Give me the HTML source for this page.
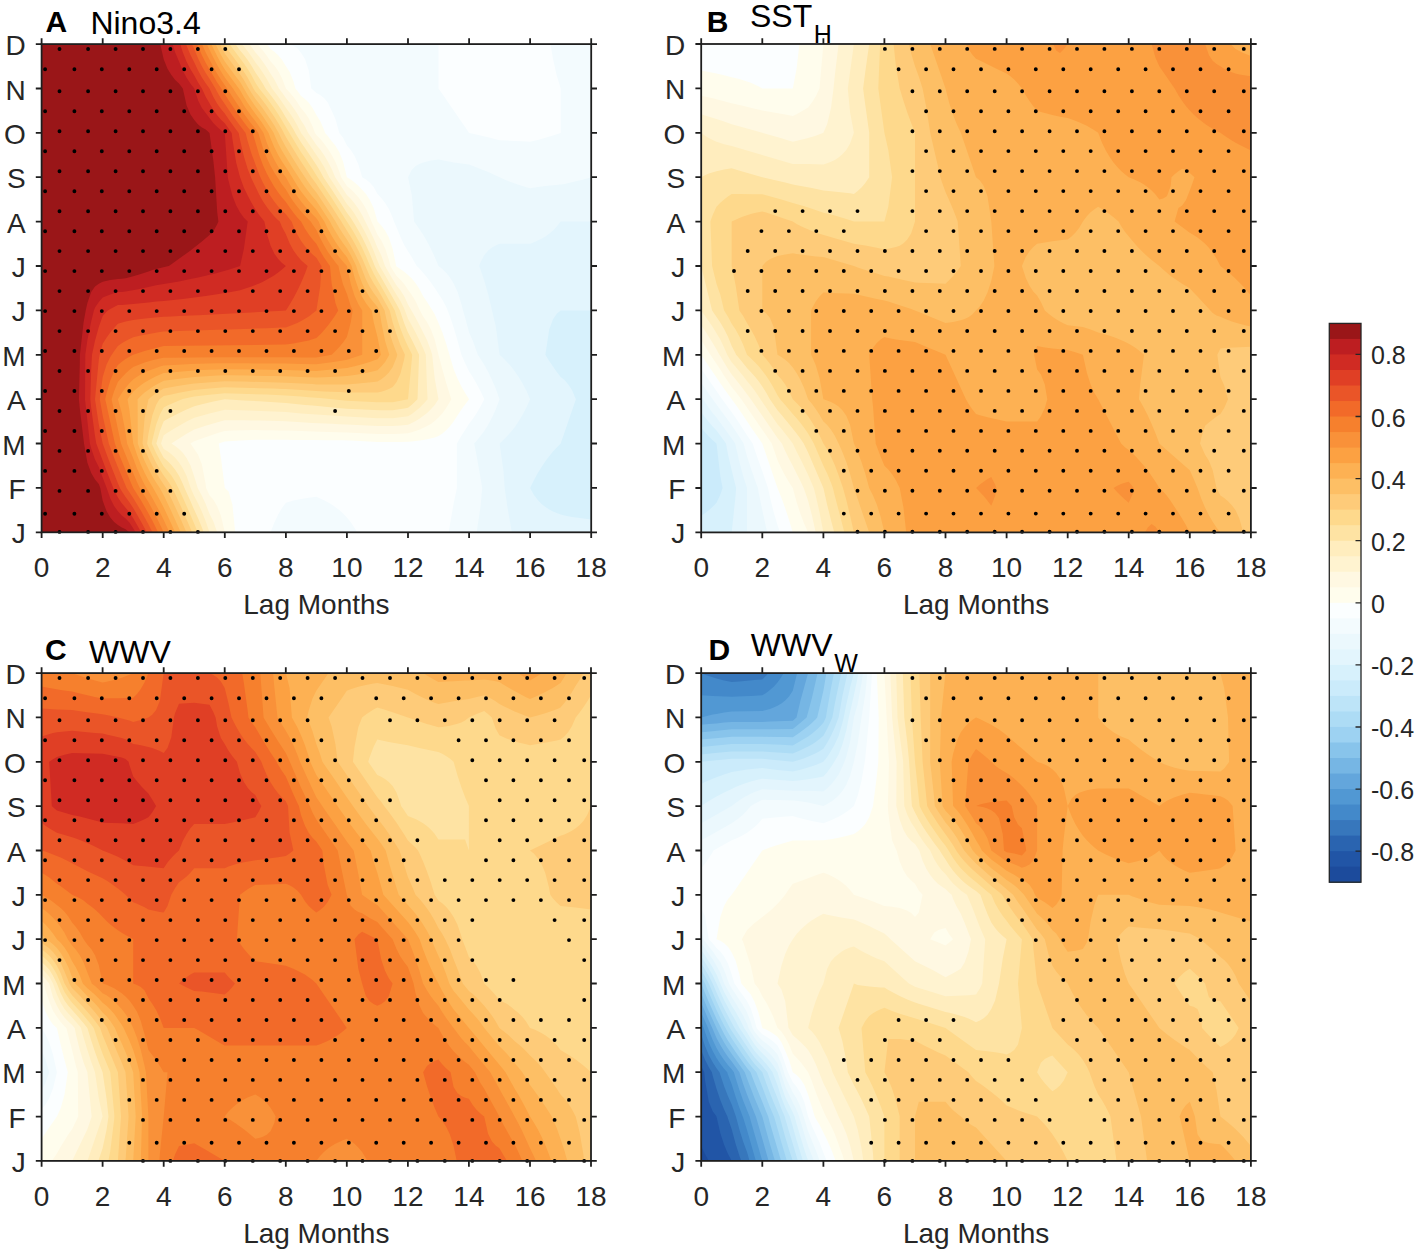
<!DOCTYPE html>
<html><head><meta charset="utf-8"><title>Figure</title><style>html,body{margin:0;padding:0;background:#fff;}svg{display:block;}</style></head><body>
<svg width="1417" height="1252" viewBox="0 0 1417 1252" shape-rendering="geometricPrecision">
<rect width="1417" height="1252" fill="#fff"/>
<rect x="41.6" y="44.1" width="549.6" height="488.2" fill="#D7F1FC"/>
<path d="M45.4 532.3L591.2 532.3L591.2 519.6L579.8 518.1L572.1 516.9L564.5 515.4L560.7 514.5L556.8 513.1L553 511.4L549.2 509.4L545.4 506.9L541.6 503.9L537.8 500L534 494.9L530.1 487.9L534 480.1L537.8 473.1L541.6 466.9L545.4 461.3L549.2 456.2L553 451.6L556.8 447.4L560.7 443.5L575.9 399.2L572.1 390.3L568.3 384.4L564.5 380.1L560.7 377L556.8 372L553 366.6L549.2 360.9L545.4 354.8L549.2 329.4L553 319.3L556.8 313.8L560.7 310.4L591.2 310.4L591.2 44.1L41.6 44.1L41.6 532.3Z" fill="#E3F5FD" fill-rule="evenodd"/>
<path d="M45.4 532.3L511.8 532.3L507.2 505.7L504.7 487.9L503.4 470.2L499.6 443.5L503.4 440L507.2 436.1L511.1 431.8L514.9 426.9L518.7 421.3L522.5 415L526.3 407.7L530.1 399.2L526.3 390.6L522.5 383.3L518.7 377L514.9 371.4L511.1 366.5L507.2 362.2L503.4 358.3L499.6 354.8L495.8 326.5L488.2 294.3L484.3 280.8L480.5 269.4L479.2 266L480.5 262.3L484.3 254.9L488.2 250.5L492 247.5L495.8 245.4L499.6 243.8L530.1 243.8L534 242.3L537.8 240.6L541.6 238.7L545.4 236.4L549.2 233.7L553 230.5L556.8 226.6L560.7 221.6L591.2 221.6L591.2 44.1L41.6 44.1L41.6 532.3Z" fill="#EBF8FD" fill-rule="evenodd"/>
<path d="M45.4 532.3L476.7 532.3L480.5 506.9L482.2 487.9L480.5 477.7L476.7 456.2L474.2 443.5L476.7 440.8L480.5 436.1L484.3 430.9L488.2 424.8L492 417.6L495.8 409.2L499.6 399.2L495.8 388.8L492 379.9L488.2 372L484.3 365L480.5 358.8L477.8 354.8L476.7 351.4L472.9 341L469.1 332.6L465.3 318.2L463 310.4L461.4 304.1L457.6 292.1L453.8 283.8L450 277.6L446.2 272.8L442.4 269.1L438.5 266L434.7 256.9L430.9 248.7L427.1 241.5L423.3 234.9L419.4 229L414.1 221.6L411.8 195L408 177.2L411.8 169.8L415.6 166.1L419.4 163.9L423.3 162.5L427.1 161.4L430.9 160.6L438.5 159.5L450 161.8L453.8 162.5L469.1 164.6L472.9 165.9L488.2 172L495.8 175.4L503.4 179L507.2 180.7L514.9 183.6L522.5 186.1L526.3 187.3L530.1 188.3L537.8 187.1L545.4 186.1L553 185.3L560.7 184.6L564.5 183.9L575.9 181.3L583.6 179.4L591.2 177.2L591.2 44.1L41.6 44.1L41.6 532.3Z" fill="#F3FBFE" fill-rule="evenodd"/>
<path d="M45.4 532.3L270.6 532.3L274.4 522.4L278.2 514.5L282 508.1L285.9 502.7L293.5 500.6L301.1 499L308.8 497.8L316.4 496.8L320.2 498.4L324 500.2L327.8 502.3L331.7 504.6L335.5 507.2L339.3 510.1L343.1 513.5L346.9 517.5L350.8 522.2L354.6 527.9L357.1 532.3L448.7 532.3L450 524.2L453.8 502.7L456.9 487.9L456.9 443.5L461.4 435.7L469.1 423.8L472.9 418.7L476.7 413L480.5 406.6L484.3 399.2L480.5 391.1L476.7 383.9L472.9 377.3L469.1 371.4L465.3 363.6L461.4 354.8L457.6 340.8L453.8 328.1L450 316.4L447.7 310.4L446.2 307L442.4 299.7L434.7 287.9L430.9 282.5L427.1 277.6L423.3 273L419.4 268.6L416.7 266L411.8 257.3L404.2 244.9L400.4 236.8L396.6 227.5L394 221.6L392.7 217.8L388.9 209.1L385.1 202.9L381.3 197.9L377.5 193.9L373.7 186.9L369.8 182.5L366 179.4L362.2 177.2L358.4 164.6L354.6 156.1L350.8 150.1L346.9 145.5L343.1 137.7L339.3 132.9L335.5 119.2L331.7 110.7L327.8 102.6L324 98L320.2 95L316.4 92.9L312.6 89.4L311.3 88.5L308.8 70.7L305 58.9L301.1 53L297.3 47.9L293.5 45.9L289.7 44.8L285.9 44.1L41.6 44.1L41.6 532.3ZM472.9 133.7L480.5 135.4L488.2 137.2L495.8 139.2L499.6 140.3L507.2 140.6L522.5 141.3L530.1 141.7L537.8 139.9L545.4 137.8L553 135.5L560.7 132.9L560.7 88.5L556.8 75.8L553 58.9L550.5 44.1L438.5 44.1L438.5 88.5L442.4 94L461.4 121.8L465.3 127.3L469.1 132.9Z" fill="#FBFEFF" fill-rule="evenodd"/>
<path d="M45.4 532.3L235.2 532.3L232.4 504.6L228.6 491.4L224.8 487.9L221 458.3L218.7 443.5L224.8 441.4L232.4 441L240.1 440.5L255.3 439.7L266.8 439.7L274.4 439.8L285.9 439.8L293.5 439.9L312.6 440.1L327.8 440.2L343.1 440.3L350.8 440.6L377.5 442L392.7 442L400.4 441.9L408 441.8L411.8 441.5L423.3 439.9L427.1 439.3L434.7 437.4L438.5 436.1L442.4 433.4L446.2 430.2L450 426.3L453.8 421.3L457.6 415.3L461.4 409.6L465.3 404.2L469.1 399.2L465.3 393.2L461.4 386.5L457.6 378.7L453.8 369.6L446.2 343.7L442.4 332.6L438.5 323.1L434.7 314.2L430.9 307.9L427.1 301.9L423.3 296.4L419.4 289L415.6 283.2L411.8 278.6L408 274.9L404.2 271.8L396.6 266.5L396.2 266L392.7 249.1L388.9 237.4L385.1 230.4L381.3 225.4L377.5 221.6L373.7 208.3L369.8 199.9L366 194.1L358.4 185.8L354.6 182.5L350.8 179.6L346.9 177.2L343.1 161.7L339.3 152.2L335.5 145.8L331.7 141.2L327.8 136L325.1 132.9L324 129.7L320.2 121.1L316.4 115.1L312.6 107.9L308.8 102.7L305 98.9L301.1 95.9L297.3 90.8L295.4 88.5L293.5 81.4L289.7 72.1L285.9 66.3L282 59.8L278.2 55.2L274.4 51.7L270.6 49L266.8 44.1L41.6 44.1L41.6 532.3Z" fill="#FFFDED" fill-rule="evenodd"/>
<path d="M45.4 532.3L224.8 532.3L221 515.9L217.2 506.2L213.4 499.8L209.5 495.3L206.1 487.9L205.7 484.4L201.9 464.6L198.1 454.8L190.5 443.5L190.4 443.5L194.3 441.2L201.9 438.4L213.4 434.5L221 432L224.8 430.9L232.4 430.6L255.3 430L263 430.2L270.6 430.3L278.2 430.5L285.9 430.6L301.1 431.1L320.2 431.7L346.9 432.4L377.5 434L392.7 434L400.4 433.7L408 433.3L411.8 432.3L415.6 431.1L419.4 429.7L427.1 426.1L430.9 423.9L434.7 421.1L438.5 417.6L442.4 413.3L446.2 408L450 401.6L451.3 399.2L450 395.3L446.2 383L442.4 369.6L438.5 354.8L434.7 339.6L430.9 329.4L427.1 322.2L423.3 316.7L419.4 309.4L415.6 301.3L411.8 294.9L408 289.7L404.2 284.1L400.4 279.7L396.6 275.9L392.7 270L390.4 266L388.9 259.8L385.1 248.3L381.3 240.5L377.5 234.7L373.7 226.3L371.4 221.6L369.8 217.3L366 208.8L362.2 202.6L358.4 197.3L354.6 192.9L350.8 189.2L346.9 186.1L341.1 177.2L339.3 171.5L335.5 161.9L331.7 155.1L327.8 148.7L324 143.4L320.2 138.8L316.4 134.9L315 132.9L312.6 126.4L308.8 118.6L305 112.8L301.1 108.2L297.3 102.3L293.5 97.1L289.7 92.6L285.9 88.5L282 78.3L278.2 71L274.4 65.6L270.6 61.4L266.8 55.8L263 50.8L259.2 46.2L257.2 44.1L41.6 44.1L41.6 532.3Z" fill="#FFF8E2" fill-rule="evenodd"/>
<path d="M45.4 532.3L217.2 532.3L213.4 521.5L209.5 513.8L205.7 504.1L201.9 495.8L197.7 487.9L194.3 476.8L190.5 465.5L186.6 458L182.8 452.8L179 448.9L175.2 445.9L171.4 443.5L175.2 440.9L186.6 433.8L194.3 429.5L205.7 425.8L221 421.3L224.8 420.3L243.9 420.3L251.5 420.4L259.2 420.5L278.2 421.1L285.9 421.3L293.5 421.8L305 422.4L312.6 422.9L331.7 423.8L339.3 424.2L346.9 424.5L377.5 426.1L392.7 426.1L400.4 425.5L408 424.8L411.8 423.1L415.6 421.1L419.4 418.8L427.1 413L430.9 409.3L434.7 404.9L438.5 399.2L434.7 378.4L432.2 354.8L430.9 350.5L427.1 340.3L419.4 324.9L415.6 317.8L408 304.5L404.2 296.3L400.4 290.3L396.6 285.4L392.7 279.2L385 266L381.3 255.6L377.5 247.7L373.7 238.6L369.8 230.4L365.3 221.6L362.2 215.3L358.4 208.7L354.6 203.4L350.8 198.8L346.9 195L335.2 177.2L331.7 168.9L327.8 161.4L324 155.1L320.2 149.6L316.4 145L308.8 133.8L308.1 132.9L305 126.6L301.1 120.5L297.3 113.8L293.5 108L289.7 102.8L285.9 98.1L282 92.6L278.9 88.5L278.2 86.9L274.4 79.5L270.6 73.7L266.8 67.5L263 61.9L259.2 56.8L255.3 52.2L251.5 46.9L249.2 44.1L41.6 44.1L41.6 532.3Z" fill="#FFF3D0" fill-rule="evenodd"/>
<path d="M45.4 532.3L209.5 532.3L205.7 521.2L201.9 511.7L198.1 503.5L194.3 496.2L190.6 487.9L190.5 487.4L186.6 476.1L182.8 468.2L179 462.4L175.2 457.8L171.4 454.2L167.5 451.3L163.7 448.9L161 443.5L163.7 435.2L167.5 432.7L175.2 428L186.6 421.6L194.3 417.8L209.5 413.6L224.8 409.7L232.4 410L240.1 410.2L247.7 410.5L255.3 410.7L266.8 411.3L274.4 411.6L285.9 412.1L293.5 412.7L301.1 413.4L316.4 414.5L324 415.1L350.8 416.8L377.5 418.2L392.7 418.2L408 416.2L411.8 413.9L415.6 411.1L419.4 407.9L423.3 404L427.6 399.2L427.1 390.3L425.8 354.8L423.3 348.4L419.4 340.2L415.6 332.6L411.8 325.4L408 318.7L404.2 308.6L400.4 300.9L392.7 288.4L385.1 275.2L379.6 266L377.5 260.8L373.7 250.9L369.8 242.1L366 234.1L362.2 226.9L359.1 221.6L358.4 220.2L354.6 213.8L350.8 208.4L346.9 203.9L331.7 180.7L329.3 177.2L324 166.7L320.2 160.5L316.4 155.1L308.8 143.7L305 138.2L301.1 132.9L297.3 125.4L293.5 118.8L289.7 113L285.9 107.8L282 101.9L278.2 96.5L272 88.5L266.8 79.1L263 72.9L259.2 67.3L255.3 62.3L251.5 56.4L247.7 51.2L243.9 46.6L241.6 44.1L41.6 44.1L41.6 532.3Z" fill="#FFEDBE" fill-rule="evenodd"/>
<path d="M45.4 532.3L203.7 532.3L201.9 527.5L198.1 518.2L194.3 510.1L190.5 501.2L184.5 487.9L182.8 483.7L179 475.8L175.2 469.7L171.4 464.9L167.5 461L163.7 457.7L159.9 450.8L156.3 443.5L159.9 430.9L163.7 421.3L167.5 419.1L175.2 415L182.8 411.3L186.6 409.5L194.3 406.2L201.9 404.3L213.4 401.6L224.8 399.2L243.9 400.4L259.2 401.3L278.2 402.4L285.9 402.9L305 404.9L312.6 405.6L335.5 407.7L346.9 408.7L373.7 410.1L381.3 410.2L392.7 410.2L404.2 408.4L408 407.7L411.8 404.7L417.5 399.2L419.1 354.8L415.6 347.4L411.8 339.7L408 332.6L404.2 323.2L399.9 310.4L396.6 304.3L381.3 277.7L377.5 271.3L374.7 266L373.7 263.2L369.8 253.7L366 245.2L362.2 237.5L358.4 230.5L354.6 224L353 221.6L350.8 218L346.9 212.8L339.3 201L331.7 189.4L323.4 177.2L320.2 171.3L316.4 165.1L305 148L301.1 142.5L295.3 132.9L293.5 129.6L289.7 123.2L285.9 117.4L282 111.1L278.2 105.3L274.4 100L265.5 88.5L263 84L259.2 77.9L255.3 72.3L251.5 65.8L247.7 60.1L243.9 55L240.1 50.4L236.2 45.3L235.4 44.1L41.6 44.1L41.6 532.3Z" fill="#FEE3A3" fill-rule="evenodd"/>
<path d="M45.4 532.3L197.8 532.3L190.5 514.9L182.8 497.5L178.4 487.9L175.2 481.7L171.4 475.6L167.5 470.7L163.7 466.6L159.9 460.1L156.1 452.9L151.7 443.5L152.3 440.4L156.1 424.8L159.9 414.6L163.7 407.5L167.5 405.6L179 400.4L182.8 399L190.5 397.3L194.3 396.5L209.5 394.8L224.8 393.2L232.4 393.4L240.1 393.7L266.8 394.6L285.9 395.4L293.5 395.9L301.1 396.5L308.8 397.2L320.2 398.1L339.3 400L346.9 400.7L377.5 402.3L392.7 402.3L400.4 400.8L408 399.2L411.8 359.7L412.2 354.8L408 346.5L404.2 338.2L400.4 328.5L396.6 316.7L394.8 310.4L385.1 293.2L377.5 280.2L373.7 273.5L369.8 265.4L366 256.3L362.2 248L358.4 240.5L354.6 233.7L350.8 227.4L346.9 221.6L331.7 198.1L317.6 177.2L312.6 169.3L305 157.7L301.1 152.2L293.5 139.8L285.9 127.1L282 120.4L278.2 114.2L274.4 108.5L266.8 98.1L263 93.2L259.2 88.5L255.3 82.4L251.5 75.3L247.7 69L243.9 63.4L232.4 48.1L229.5 44.1L41.6 44.1L41.6 532.3Z" fill="#FED98C" fill-rule="evenodd"/>
<path d="M45.4 532.3L192 532.3L190.5 528.5L182.8 510.8L175.2 494L172.3 487.9L171.4 486.3L167.5 480.4L163.7 475.5L159.9 469.5L156.1 462.8L152.3 455.3L148.5 446.9L147.1 443.5L148.5 433.3L152.3 415.4L156.1 405.1L159.4 399.2L163.7 396.1L171.4 394.4L179 392.8L194.3 390L209.5 388.5L224.8 387.2L251.5 387.9L259.2 388.2L274.4 388.6L282 388.9L285.9 389L312.6 390.8L316.4 391.1L324 391.4L331.7 391.8L339.3 392.1L346.9 392.6L358.4 392.6L366 392.5L377.5 392.5L381.3 391.7L385.1 390.6L388.9 389.1L392.7 387.1L396.6 381.9L400.4 373.8L404.2 359.2L404.9 354.8L400.4 344.9L396.6 334.8L392.7 322.5L389.7 310.4L381.3 295.6L377.5 289.1L373.7 283.2L369.8 276.2L362.2 258.6L358.4 250.6L354.6 243.3L350.8 236.7L343.1 224.6L341.3 221.6L331.7 206.8L327.8 201.1L320.2 189.7L316.4 184.1L311.3 177.2L305 167.5L301.1 161.8L293.5 149.6L285.9 136.9L282 129.6L278.2 123.1L274.4 117.1L266.8 106.1L263 100.9L259.2 96.1L255.3 91.4L253.4 88.5L251.5 84.7L247.7 77.8L243.9 71.7L240.1 66.3L224.8 45.7L224 44.1L41.6 44.1L41.6 532.3Z" fill="#FECB79" fill-rule="evenodd"/>
<path d="M45.4 532.3L186.4 532.3L179 515.3L171.4 498.7L166.2 487.9L163.7 484.4L159.9 478.8L156.1 472.6L152.3 465.7L148.5 458L144.6 449.2L142.5 443.5L144.6 418L148.5 399.2L152.3 396L156.1 393.2L159.9 390.7L163.7 388.4L179 385.8L190.5 384L194.3 383.5L221 381.4L224.8 381.2L243.9 381.6L285.9 382.7L312.6 384.1L316.4 384.4L346.9 384.4L358.4 383.5L373.7 381.9L377.5 381.4L381.3 379.2L385.1 376.2L388.9 372.4L392.7 366.9L396.6 357.2L397.3 354.8L392.7 342.7L388.9 330.2L385.1 313.2L384.6 310.4L377.5 298L373.7 292.9L369.8 286.9L366 279.4L362.2 270L360.8 266L358.4 260.7L354.6 253L350.8 245.9L346.9 239.4L343.1 233.9L339.3 228L335.5 221.4L331.7 215.5L316.4 192.6L312.6 187.9L308.8 182.8L301.1 171.5L293.5 159.5L285.9 147L282 139.9L278.7 132.9L274.4 125.6L270.6 119.7L263 108.7L259.2 103.7L255.3 98.8L251.5 93.1L247.7 86.7L243.9 80.1L240.1 74.2L236.2 69.1L224.8 53.6L219.7 44.1L41.6 44.1L41.6 532.3Z" fill="#FDBF65" fill-rule="evenodd"/>
<path d="M45.4 532.3L180.7 532.3L171.4 511.4L163.7 495.3L159.8 487.9L156.1 482.5L152.3 476.2L148.5 469.1L144.6 461L140.8 451.8L137.8 443.5L137.6 399.2L140.8 395.9L144.6 392.6L148.5 389.7L152.3 387.1L156.1 384.8L159.9 382.7L163.7 380.8L171.4 379.7L179 378.7L194.3 377L201.9 376.5L217.2 375.6L224.8 375.2L232.4 375.3L247.7 375.6L266.8 376L274.4 376.1L282 376.3L285.9 376.3L301.1 377L308.8 377.3L316.4 377.6L324 377.3L339.3 376.6L346.9 376.1L354.6 375L362.2 373.7L373.7 371.2L377.5 370.3L381.3 366.6L385.1 361.9L388.9 355.6L389.3 354.8L385.1 340.9L381.3 322.3L379.5 310.4L377.5 306.8L373.7 302.6L369.8 297.6L366 291.3L362.2 283.5L358.4 273.3L356.2 266L354.6 262.6L350.8 255.1L346.9 248.3L343.1 243.2L339.3 237.7L335.5 231.6L331.7 224.9L330 221.6L324 212.6L316.4 201.1L312.6 196.8L308.8 192L305 186.9L301.1 181.3L298.6 177.2L293.5 169.4L282 150.7L278.2 143.4L274.4 134.8L273.7 132.9L270.6 127.9L263 116.5L259.2 111.2L255.3 106.2L251.5 100.8L247.7 94.9L240.1 82.1L236.2 77L224.8 61.5L221 54.9L217.2 47.6L215.5 44.1L41.6 44.1L41.6 532.3Z" fill="#FDB153" fill-rule="evenodd"/>
<path d="M45.4 532.3L175 532.3L171.4 524.1L163.7 507.6L159.9 500.2L156.1 493.2L152.3 486.6L148.5 480.2L144.6 472.8L140.8 464.5L137 454.8L133.2 443.5L129.4 409.9L127.5 399.2L129.4 396.5L133.2 391.8L137 388.3L140.8 385.3L144.6 382.6L148.5 380.3L152.3 378.2L156.1 376.3L163.7 373.1L171.4 372.4L179 371.7L194.3 370.4L201.9 370.1L224.8 369.2L285.9 370L301.1 370.4L308.8 370.7L316.4 370.9L324 370.3L339.3 368.8L346.9 367.9L354.6 366.2L362.2 364.2L369.8 361.9L373.7 360.6L377.5 359.2L380.9 354.8L377.5 337L373.7 322.2L371.7 310.4L369.8 308.3L366 303.2L362.2 296.9L358.4 288.8L354.6 277.8L351.6 266L346.9 257.1L343.1 252.5L339.3 247.5L335.5 241.9L331.7 235.7L327.8 228.8L324.3 221.6L316.4 209.7L312.6 205.6L308.8 201.3L301.1 191.4L297.3 185.7L293.5 179.5L292.2 177.2L285.9 167.2L282 161.5L278.2 155.1L274.4 147.4L270.6 138.4L268.6 132.9L263 124.3L259.2 118.8L251.5 108.6L247.7 103L243.9 96.9L240.1 90.3L238.9 88.5L224.8 69.5L221 63.2L217.2 56.3L211.2 44.1L41.6 44.1L41.6 532.3Z" fill="#FCA142" fill-rule="evenodd"/>
<path d="M45.4 532.3L169.4 532.3L163.7 520L159.9 512.2L156.1 504.9L152.3 497.9L148.5 491.2L144.6 484.7L140.8 477.1L137 468.5L133.2 458.3L127.1 443.5L125.6 433L121.8 413.1L117.9 399.2L121.8 392.9L125.6 387.7L129.4 383.3L133.2 379.4L137 376.8L140.8 374.6L144.6 372.6L148.5 370.8L156.1 367.9L159.9 366.6L163.7 365.5L182.8 364.4L190.5 364.1L198.1 363.8L217.2 363.3L232.4 363.2L240.1 363.3L247.7 363.3L255.3 363.4L270.6 363.5L278.2 363.6L285.9 363.6L293.5 363.8L301.1 363.9L316.4 364.2L331.7 362.2L343.1 360.4L346.9 359.7L350.8 358.6L358.4 356.1L362.2 354.8L362.2 310.4L358.4 304.2L354.6 295.9L350.8 284.1L346.9 266L343.1 261.8L339.3 257.2L335.5 252.2L331.7 246.5L327.8 240.2L324 233.2L320.2 225.2L318.7 221.6L316.4 218.2L312.6 214.5L308.8 210.5L305 206.2L301.1 201.5L297.3 196.3L293.5 190.6L289.7 184.3L285.9 177.2L282 172.4L278.2 166.7L274.4 160.1L270.6 152.3L266.8 142.8L263.5 132.9L259.2 126.4L255.3 121L251.5 116.3L247.7 111.1L243.9 105.4L240.1 99.1L236.2 93.5L233 88.5L224.8 77.4L221 71.5L217.2 65L213.4 57.8L206.7 44.1L41.6 44.1L41.6 532.3Z" fill="#F99139" fill-rule="evenodd"/>
<path d="M45.4 532.3L163.7 532.3L159.9 524.2L156.1 516.5L148.5 502.3L139.8 487.9L137 482.1L129.4 464.2L121.8 445.5L121 443.5L111.6 399.2L114.1 391.3L117.9 382.1L121.8 377.4L125.6 373.4L129.4 370L133.2 367.1L137 365.4L144.6 362.5L152.3 360.3L159.9 358.6L163.7 357.8L171.4 357.7L194.3 357.4L221 357.2L259.2 357.2L266.8 357.3L293.5 357.3L301.1 357.4L312.6 357.4L316.4 357.5L331.7 354.8L335.5 351.1L339.3 347.1L343.1 342.4L346.9 337L350.8 322.2L352.7 310.4L350.7 306L346.9 293.7L343.1 284.4L339.3 270.2L338.5 266L335.5 262.4L331.7 257.3L327.8 251.7L324 245.3L320.2 238.1L316.4 229.9L312.6 224.6L310.7 221.6L308.8 219.8L305 215.8L301.1 211.5L297.3 206.8L293.5 201.7L289.7 195.9L285.9 189.6L282 184.4L278.2 178.6L277.4 177.2L274.4 172.8L270.6 166.1L266.8 158.1L263 148.2L259.2 135.8L258.4 132.9L255.3 128.4L251.5 124L247.7 119.1L243.9 113.8L240.1 108L236.2 102.5L232.4 96.8L227.1 88.5L221 79.8L217.2 73.7L213.4 67L205.7 52.4L201.9 44.1L41.6 44.1L41.6 532.3Z" fill="#F6802D" fill-rule="evenodd"/>
<path d="M45.4 532.3L158.1 532.3L152.3 520.6L148.5 513.4L140.8 500.1L133.2 487.9L129.4 479.3L121.8 461.1L117.9 451.5L114.9 443.5L106.5 404.8L105.2 399.2L106.5 393.4L110.3 380.5L114.1 371.5L117.9 365L121.8 361.8L125.6 359.1L129.4 356.8L133.2 354.8L140.8 352.3L144.6 351.1L156.1 347.9L163.7 346L182.8 345.8L209.5 345.5L285.9 344.5L293.5 343.4L301.1 342.1L308.8 340.4L316.4 338.1L320.2 334.4L324 330.3L327.8 325.7L331.7 320.6L335.5 314.9L338.2 310.4L335.5 303.2L331.7 283.8L330 266L327.8 263.1L324 257.5L320.2 251.1L316.4 243.8L312.6 239.5L308.8 234.5L305 228.7L301.1 221.6L297.3 217.4L293.5 212.8L289.7 207.6L285.9 201.9L282 197.5L278.2 192.5L274.4 186.9L270.6 180.4L266.8 173.4L263 165.3L259.2 155.1L255.3 141.7L252.6 132.9L247.7 127.2L243.9 122.3L240.1 116.9L236.2 111.6L228.6 100.3L224.8 94.3L221 88.1L217.2 82.4L213.4 76.1L205.7 62.7L201.9 55.2L197.1 44.1L41.6 44.1L41.6 532.3Z" fill="#F26A29" fill-rule="evenodd"/>
<path d="M45.4 532.3L152.4 532.3L148.5 524.5L140.8 510.6L133.2 498L126.6 487.9L117.9 467.3L114.1 457.7L108.8 443.5L102.7 415.8L99.8 399.2L102.7 377L106.5 364.8L110.3 357.1L114.1 351.3L117.9 345.9L121.8 343.3L125.6 341.1L129.4 339.1L133.2 337.3L140.8 335.6L159.9 332L163.7 331.4L179 331L186.6 330.7L209.5 330.1L217.2 329.8L228.6 329.5L236.2 329.2L243.9 329L251.5 328.7L266.8 328.2L282 327.6L285.9 327.5L293.5 324.6L297.3 322.9L301.1 321L305 318.8L308.8 316.4L312.6 313.6L316.4 310.4L320.2 286.5L321.5 266L320.2 264.1L316.4 257.7L312.6 254.4L308.8 250.7L305 246.2L301.1 240.9L297.3 234.5L293.5 226.4L291.6 221.6L289.7 219.3L285.9 214.2L282 210.5L278.2 206.4L274.4 201.7L270.6 196.3L266.8 190L263 182.8L260.4 177.2L259.2 174.4L251.5 153.8L247.7 141.2L245.6 132.9L240.1 125.8L236.2 120.6L232.4 115.3L224.8 103.9L221 98.5L217.2 92L215.4 88.5L209.5 78.8L205.7 73L201.9 66.3L198.1 58.5L194.3 49.3L191.9 44.1L41.6 44.1L41.6 532.3Z" fill="#EA5528" fill-rule="evenodd"/>
<path d="M45.4 532.3L146.8 532.3L140.8 521.2L137 514.5L133.2 508.1L129.4 502.2L125.6 497.1L121.8 491.2L119.9 487.9L117.9 483.2L110.3 464.1L106.5 454L102.7 443.5L98.8 424.5L95 399.2L98.8 359.7L99.6 354.8L102.7 343.7L106.5 337.8L110.3 332.6L114.1 327.9L117.9 323.7L125.6 321.6L133.2 319.9L140.8 319L152.3 317.8L163.7 316.8L171.4 316.4L179 316.1L190.5 315.5L198.1 315.2L259.2 312L266.8 311.5L278.2 310.9L285.9 310.4L289.7 304.6L293.5 298.1L297.3 290.8L301.1 282.7L305 273.4L307.7 266L305 263.8L301.1 260.2L297.3 255.8L293.5 250.4L289.7 243.5L285.9 234.3L282 227L279.8 221.6L278.2 220.2L274.4 216.4L270.6 212.1L266.8 207.1L263 201.4L259.2 194.6L251.5 178.5L247.7 168.9L243.9 156.6L240.1 140.3L238.7 132.9L236.2 129.7L228.6 119.2L224.8 113.6L221 109.1L217.2 103.7L213.4 97L209.5 88.5L205.7 83.3L201.9 77.4L198.1 70.5L194.3 62.4L190.5 54.9L186.6 45.7L186 44.1L41.6 44.1L41.6 532.3Z" fill="#E03F25" fill-rule="evenodd"/>
<path d="M45.4 532.3L141.1 532.3L137 524.8L133.2 518.2L129.4 512.3L121.8 503.3L117.9 497.5L114.1 489.9L106.5 470.8L96.3 443.5L95 436.1L91.2 408L90.3 399.2L91.2 369.6L92 354.8L95 340.8L98.8 326.9L102.7 315.9L106.5 311.7L107.8 310.4L110.3 308.9L117.9 305.1L121.8 305L133.2 304.1L148.5 302.5L156.1 301.6L163.7 300.9L182.8 298.9L198.1 297L205.7 296L217.2 294.3L232.4 291.7L240.1 290.2L247.7 287.8L251.5 286.5L259.2 283.4L263 281.7L270.6 277.6L274.4 275.2L278.2 272.5L282 269.5L285.9 266L282 263L278.2 259.1L274.4 253.7L270.6 245.8L266.8 233.4L264.4 221.6L259.2 215.1L255.3 209.2L251.5 202.8L247.7 195.5L243.9 187.7L240.1 177.2L236.2 162.8L232.4 139L231.7 132.9L224.8 123.2L221 119.7L217.2 115.3L213.4 110L205.7 96.7L201.9 88.5L198.1 82.5L194.3 75.4L190.5 69.3L186.6 61.7L182.8 52.3L180.2 44.1L41.6 44.1L41.6 532.3Z" fill="#D02B23" fill-rule="evenodd"/>
<path d="M45.4 532.3L135.5 532.3L133.2 528.3L129.4 522.4L125.6 518.6L121.8 515.4L117.9 511.3L114.1 505.9L110.3 498.4L106.5 487.5L102.7 477.7L98.8 467.1L95 459.5L91.2 448.5L89.9 443.5L85 399.2L85.3 354.8L87.4 340L91.2 321.5L93.9 310.4L95 307.6L98.8 301.9L102.7 297.6L110.3 294.5L117.9 292L121.8 291.9L125.6 291.5L137 289.4L148.5 287L156.1 285.3L163.7 284.1L179 281.4L190.5 279.1L198.1 277.5L205.7 275.8L209.5 274.8L213.4 273.9L228.6 269.7L240.1 266L243.9 248.7L247.7 221.6L243.9 217.7L240.1 212.4L236.2 205.5L232.4 195.8L228.6 181.1L227.8 177.2L224.8 132.9L221 130.2L217.2 127L213.3 123.1L201.9 108L198.1 100.5L194.3 88.5L190.5 83.7L186.6 77.8L182.8 70.4L179 61.6L175.2 52.4L172.5 44.1L41.6 44.1L41.6 532.3Z" fill="#BD1E21" fill-rule="evenodd"/>
<path d="M45.4 532.3L129.2 532.3L125.6 529.3L121.8 527.4L117.9 525.1L114.1 521.9L110.3 517.5L106.5 511L102.7 500.8L100.3 487.9L98.8 483.9L95 479.5L91.2 473L87.4 462.7L84 443.5L79.8 408.6L78.9 399.2L79.8 363.9L79.9 354.8L83.6 322.2L85.7 310.4L87.4 302.9L91.2 291.9L95 286.6L98.8 283.8L102.7 281.7L110.3 280.1L117.9 278.9L121.8 278.8L125.6 278.2L133.2 276.2L140.8 273.9L148.5 271.5L152.3 270.1L156.1 268.9L167.6 266.3L168.8 266L171.4 264.3L182.8 256.1L190.5 250.5L201.9 241.5L209.5 235.1L213.4 231.3L217.2 224.3L218.4 221.6L217.2 212.1L215.1 177.2L213.4 161.3L209.5 132.9L205.7 129.4L201.9 127.5L198.1 124.6L194.3 120L190.5 114.5L186.6 105.5L182.8 88.5L179 83.4L175.2 80L171.4 75L167.5 68.8L163.7 59.3L160.2 44.1L41.6 44.1L41.6 532.3Z" fill="#9A1618" fill-rule="evenodd"/>
<path d="M59.5 49.0h0M88.1 49.0h0M115.6 49.0h0M143.0 49.0h0M170.4 49.0h0M197.9 49.0h0M225.3 49.0h0M45.1 69.3h0M74.4 69.3h0M101.8 69.3h0M129.3 69.3h0M156.7 69.3h0M184.2 69.3h0M211.6 69.3h0M239.0 69.3h0M59.5 91.3h0M88.1 91.3h0M115.6 91.3h0M143.0 91.3h0M170.4 91.3h0M197.9 91.3h0M225.3 91.3h0M45.1 111.3h0M74.4 111.3h0M101.8 111.3h0M129.3 111.3h0M156.7 111.3h0M184.2 111.3h0M211.6 111.3h0M239.0 111.3h0M59.5 131.3h0M88.1 131.3h0M115.6 131.3h0M143.0 131.3h0M170.4 131.3h0M197.9 131.3h0M225.3 131.3h0M252.8 131.3h0M45.1 151.2h0M74.4 151.2h0M101.8 151.2h0M129.3 151.2h0M156.7 151.2h0M184.2 151.2h0M211.6 151.2h0M239.0 151.2h0M266.5 151.2h0M59.5 171.2h0M88.1 171.2h0M115.6 171.2h0M143.0 171.2h0M170.4 171.2h0M197.9 171.2h0M225.3 171.2h0M252.8 171.2h0M280.2 171.2h0M45.1 191.2h0M74.4 191.2h0M101.8 191.2h0M129.3 191.2h0M156.7 191.2h0M184.2 191.2h0M211.6 191.2h0M239.0 191.2h0M266.5 191.2h0M293.9 191.2h0M59.5 211.2h0M88.1 211.2h0M115.6 211.2h0M143.0 211.2h0M170.4 211.2h0M197.9 211.2h0M225.3 211.2h0M252.8 211.2h0M280.2 211.2h0M307.6 211.2h0M45.1 231.2h0M74.4 231.2h0M101.8 231.2h0M129.3 231.2h0M156.7 231.2h0M184.2 231.2h0M211.6 231.2h0M239.0 231.2h0M266.5 231.2h0M293.9 231.2h0M321.4 231.2h0M59.5 251.1h0M88.1 251.1h0M115.6 251.1h0M143.0 251.1h0M170.4 251.1h0M197.9 251.1h0M225.3 251.1h0M252.8 251.1h0M280.2 251.1h0M307.6 251.1h0M335.1 251.1h0M45.1 271.1h0M74.4 271.1h0M101.8 271.1h0M129.3 271.1h0M156.7 271.1h0M184.2 271.1h0M211.6 271.1h0M239.0 271.1h0M266.5 271.1h0M293.9 271.1h0M321.4 271.1h0M348.8 271.1h0M59.5 291.1h0M88.1 291.1h0M115.6 291.1h0M143.0 291.1h0M170.4 291.1h0M197.9 291.1h0M225.3 291.1h0M252.8 291.1h0M280.2 291.1h0M307.6 291.1h0M335.1 291.1h0M362.5 291.1h0M45.1 311.1h0M74.4 311.1h0M101.8 311.1h0M129.3 311.1h0M156.7 311.1h0M184.2 311.1h0M211.6 311.1h0M239.0 311.1h0M266.5 311.1h0M293.9 311.1h0M321.4 311.1h0M348.8 311.1h0M376.2 311.1h0M59.5 331.1h0M88.1 331.1h0M115.6 331.1h0M143.0 331.1h0M170.4 331.1h0M197.9 331.1h0M225.3 331.1h0M252.8 331.1h0M280.2 331.1h0M307.6 331.1h0M335.1 331.1h0M362.5 331.1h0M390.0 331.1h0M45.1 351.0h0M74.4 351.0h0M101.8 351.0h0M129.3 351.0h0M156.7 351.0h0M184.2 351.0h0M211.6 351.0h0M239.0 351.0h0M266.5 351.0h0M293.9 351.0h0M321.4 351.0h0M348.8 351.0h0M376.2 351.0h0M59.5 371.0h0M88.1 371.0h0M115.6 371.0h0M143.0 371.0h0M170.4 371.0h0M197.9 371.0h0M225.3 371.0h0M252.8 371.0h0M280.2 371.0h0M307.6 371.0h0M335.1 371.0h0M362.5 371.0h0M45.1 391.0h0M74.4 391.0h0M101.8 391.0h0M129.3 391.0h0M156.7 391.0h0M348.8 391.0h0M59.5 411.0h0M88.1 411.0h0M115.6 411.0h0M143.0 411.0h0M170.4 411.0h0M335.1 411.0h0M45.1 431.0h0M74.4 431.0h0M101.8 431.0h0M129.3 431.0h0M59.5 450.9h0M88.1 450.9h0M115.6 450.9h0M143.0 450.9h0M45.1 470.9h0M74.4 470.9h0M101.8 470.9h0M129.3 470.9h0M156.7 470.9h0M59.5 490.9h0M88.1 490.9h0M115.6 490.9h0M143.0 490.9h0M170.4 490.9h0M45.1 513.7h0M74.4 513.7h0M101.8 513.7h0M129.3 513.7h0M156.7 513.7h0M184.2 513.7h0M59.5 531.9h0M88.1 531.9h0M115.6 531.9h0M143.0 531.9h0M170.4 531.9h0M197.9 531.9h0" stroke="#000" stroke-width="3.9" stroke-linecap="round" fill="none"/>
<path d="M41.6 532.3V538.1M41.6 44.1V38.3M102.7 532.3V538.1M102.7 44.1V38.3M163.7 532.3V538.1M163.7 44.1V38.3M224.8 532.3V538.1M224.8 44.1V38.3M285.9 532.3V538.1M285.9 44.1V38.3M346.9 532.3V538.1M346.9 44.1V38.3M408.0 532.3V538.1M408.0 44.1V38.3M469.1 532.3V538.1M469.1 44.1V38.3M530.1 532.3V538.1M530.1 44.1V38.3M591.2 532.3V538.1M591.2 44.1V38.3M41.6 532.3H35.8M591.2 532.3H597.0M41.6 487.9H35.8M591.2 487.9H597.0M41.6 443.5H35.8M591.2 443.5H597.0M41.6 399.2H35.8M591.2 399.2H597.0M41.6 354.8H35.8M591.2 354.8H597.0M41.6 310.4H35.8M591.2 310.4H597.0M41.6 266.0H35.8M591.2 266.0H597.0M41.6 221.6H35.8M591.2 221.6H597.0M41.6 177.2H35.8M591.2 177.2H597.0M41.6 132.9H35.8M591.2 132.9H597.0M41.6 88.5H35.8M591.2 88.5H597.0M41.6 44.1H35.8M591.2 44.1H597.0" stroke="#1e1e1e" stroke-width="1.8" fill="none"/>
<rect x="41.6" y="44.1" width="549.6" height="488.2" fill="none" stroke="#1e1e1e" stroke-width="1.8"/>
<text x="41.6" y="576.9" text-anchor="middle" font-family="'Liberation Sans', sans-serif" font-size="28" fill="#262626">0</text>
<text x="102.7" y="576.9" text-anchor="middle" font-family="'Liberation Sans', sans-serif" font-size="28" fill="#262626">2</text>
<text x="163.7" y="576.9" text-anchor="middle" font-family="'Liberation Sans', sans-serif" font-size="28" fill="#262626">4</text>
<text x="224.8" y="576.9" text-anchor="middle" font-family="'Liberation Sans', sans-serif" font-size="28" fill="#262626">6</text>
<text x="285.9" y="576.9" text-anchor="middle" font-family="'Liberation Sans', sans-serif" font-size="28" fill="#262626">8</text>
<text x="346.9" y="576.9" text-anchor="middle" font-family="'Liberation Sans', sans-serif" font-size="28" fill="#262626">10</text>
<text x="408.0" y="576.9" text-anchor="middle" font-family="'Liberation Sans', sans-serif" font-size="28" fill="#262626">12</text>
<text x="469.1" y="576.9" text-anchor="middle" font-family="'Liberation Sans', sans-serif" font-size="28" fill="#262626">14</text>
<text x="530.1" y="576.9" text-anchor="middle" font-family="'Liberation Sans', sans-serif" font-size="28" fill="#262626">16</text>
<text x="591.2" y="576.9" text-anchor="middle" font-family="'Liberation Sans', sans-serif" font-size="28" fill="#262626">18</text>
<text x="25.7" y="543.3" text-anchor="end" font-family="'Liberation Sans', sans-serif" font-size="28" fill="#262626">J</text>
<text x="25.7" y="498.9" text-anchor="end" font-family="'Liberation Sans', sans-serif" font-size="28" fill="#262626">F</text>
<text x="25.7" y="454.5" text-anchor="end" font-family="'Liberation Sans', sans-serif" font-size="28" fill="#262626">M</text>
<text x="25.7" y="410.2" text-anchor="end" font-family="'Liberation Sans', sans-serif" font-size="28" fill="#262626">A</text>
<text x="25.7" y="365.8" text-anchor="end" font-family="'Liberation Sans', sans-serif" font-size="28" fill="#262626">M</text>
<text x="25.7" y="321.4" text-anchor="end" font-family="'Liberation Sans', sans-serif" font-size="28" fill="#262626">J</text>
<text x="25.7" y="277.0" text-anchor="end" font-family="'Liberation Sans', sans-serif" font-size="28" fill="#262626">J</text>
<text x="25.7" y="232.6" text-anchor="end" font-family="'Liberation Sans', sans-serif" font-size="28" fill="#262626">A</text>
<text x="25.7" y="188.2" text-anchor="end" font-family="'Liberation Sans', sans-serif" font-size="28" fill="#262626">S</text>
<text x="25.7" y="143.9" text-anchor="end" font-family="'Liberation Sans', sans-serif" font-size="28" fill="#262626">O</text>
<text x="25.7" y="99.5" text-anchor="end" font-family="'Liberation Sans', sans-serif" font-size="28" fill="#262626">N</text>
<text x="25.7" y="55.1" text-anchor="end" font-family="'Liberation Sans', sans-serif" font-size="28" fill="#262626">D</text>
<text x="316.4" y="613.9" text-anchor="middle" font-family="'Liberation Sans', sans-serif" font-size="28" fill="#262626">Lag Months</text>
<rect x="701.2" y="44.0" width="549.7" height="488.4" fill="#CBEBFB"/>
<path d="M705 532.4L1250.9 532.4L1250.9 44L701.2 44L701.2 427.7L705 432.3L708.8 436.4L712.7 440.2L716.5 443.6L720.3 475.9L722.6 488L720.3 494.7L716.5 502.8L712.7 506.8L708.8 510.2L705 513.2L701.2 515.8L701.2 532.4Z" fill="#D7F1FC" fill-rule="evenodd"/>
<path d="M735.6 532.4L1250.9 532.4L1250.9 44L701.2 44L701.2 411.9L705 417.3L708.8 422.1L712.7 426.5L716.5 430.5L726 443.6L727.9 454L731.7 470.2L736.1 488L735.6 495.4L731.7 532.4Z" fill="#E3F5FD" fill-rule="evenodd"/>
<path d="M747 532.4L1250.9 532.4L1250.9 44L701.2 44L701.2 396.4L708.8 407.8L712.7 412.9L716.5 417.5L731.7 438.4L735.1 443.6L739.4 462.1L743.2 476L747 488Z" fill="#EBF8FD" fill-rule="evenodd"/>
<path d="M758.5 491.7L762.3 510.2L766.1 527.5L767.4 532.4L1250.9 532.4L1250.9 44L701.2 44L701.2 382.5L708.8 393.7L716.5 404.4L731.7 425.3L735.6 431L743.6 443.6L747 456.3L750.8 468.1L754.6 479.1L757.9 488Z" fill="#F3FBFE" fill-rule="evenodd"/>
<path d="M769.9 496.9L773.7 512.2L777.5 525L780.1 532.4L1250.9 532.4L1250.9 44L701.2 44L701.2 368.7L708.8 380L722.2 399.2L731.7 412.3L735.6 417.8L739.4 423.4L747 435.3L752.7 443.6L754.6 449.5L758.5 460.8L762.3 471.3L768 488Z" fill="#FBFEFF" fill-rule="evenodd"/>
<path d="M781.4 497.7L785.2 508.2L789 519.7L792.8 532.4L1250.9 532.4L1250.9 44L799.4 44L796.6 68.7L792.8 88.4L762.3 88.4L758.5 86.2L754.6 84.4L750.8 82.8L747 81.4L739.4 79.1L731.7 77.3L724.1 75.3L716.5 73.6L705 71.3L701.2 70.6L701.2 354.8L708.8 366.2L724.1 388.8L731.7 399.2L735.6 404.5L743.2 415.6L750.8 427L758.5 438L762.3 443.6L777.5 488Z" fill="#FFFDED" fill-rule="evenodd"/>
<path d="M796.6 502.1L800.5 513.9L804.3 523.9L808.1 532.4L1250.9 532.4L1250.9 44L823.4 44L819.5 88.4L815.7 96.5L811.9 102.6L808.1 107.4L800.5 112.1L796.6 114.2L792.8 116.1L785.2 114.5L773.7 112.4L762.3 110.6L758.5 109.6L754.6 108.7L747 106.8L731.7 103.2L720.3 100.2L712.7 98.3L701.2 95.8L701.2 340L710.4 354.8L720.3 369.6L724.1 375.7L731.7 386.9L735.6 391.7L741.3 399.2L771.8 443.6L777.5 460.2L781.4 468.4L785.2 475.7L789 482.2L792.8 488Z" fill="#FFF8E2" fill-rule="evenodd"/>
<path d="M804.3 489.7L808.1 500.7L811.9 515.3L815.7 532.4L1250.9 532.4L1250.9 44L838.6 44L834.8 75.7L833.5 88.4L831 108.1L827.2 123.9L823.4 132.8L815.7 135.7L808.1 138L804.3 139.1L792.8 141.7L785.2 139.5L781.4 138.3L750.8 129.5L731.7 124.3L724.1 121.6L716.5 119L705 115.4L701.2 114.3L701.2 325.2L705 330.8L712.7 342.9L716.5 349.4L719.4 354.8L720.3 356.1L724.1 362.6L727.9 368.8L731.7 374.5L735.6 379.2L743.2 388.9L750.8 399.2L754.6 404.8L762.3 415.8L777.5 438L781.9 443.6L785.2 451L789 458.8L792.8 465.8L796.6 473.6L800.5 481.3L803.7 488Z" fill="#FFF3D0" fill-rule="evenodd"/>
<path d="M815.7 495.4L819.5 512.2L823.4 532.4L1250.9 532.4L1250.9 44L853.9 44L847.8 88.4L850.1 112.6L853.9 132.8L850.1 143.4L846.3 149.9L842.4 154.3L838.6 157.5L834.8 159.9L831 161.8L827.2 163.3L823.4 164.5L808.1 164.1L800.5 164L792.8 163.9L747 150.6L739.4 148.3L731.7 146.1L724.1 144.2L716.5 141.7L712.7 140.1L708.8 138.1L705 135.8L701.2 132.8L701.2 310.4L708.8 321.2L712.7 327L720.3 339.4L724.1 347.4L727.2 354.8L727.9 356.1L731.7 362.2L735.6 366.7L743.2 376L747 380.9L750.8 385.5L754.6 390.6L758.5 396.2L762.3 402L777.5 424.2L781.4 428.8L789 438.5L792.8 443.6L796.6 451.4L800.5 459.1L808.1 474.7L813.8 488Z" fill="#FFEDBE" fill-rule="evenodd"/>
<path d="M827.2 504.9L831 520.3L834.3 532.4L1250.9 532.4L1250.9 44L869.2 44L865.3 71.8L863.1 88.4L865.3 105L869.2 132.8L869.2 177.2L865.3 183L861.5 187.4L857.7 191L853.9 193.9L850.1 193.3L831 191.2L823.4 190.5L811.9 188L796.6 185.2L792.8 184.6L785.2 182.6L777.5 180.8L769.9 178.9L762.3 177.2L743.2 171.7L735.6 169.4L731.7 168.3L724.1 169.6L716.5 171.3L708.8 173.6L705 175.2L701.2 177.2L701.2 266L712.1 310.4L720.3 322.4L724.1 328.9L727.9 336.6L731.7 345.9L735.6 353.6L736.1 354.8L739.4 358.6L747 367.9L750.8 371.9L754.6 376.3L758.5 381.1L762.3 386.5L766.1 392.5L769.9 399.2L777.5 410.3L781.4 414.7L789 423.9L796.6 433.6L800.5 438.8L803.7 443.6L808.1 452.5L823.4 488Z" fill="#FEE3A3" fill-rule="evenodd"/>
<path d="M834.8 495.7L844.4 532.4L1250.9 532.4L1250.9 44L880.1 44L878.3 88.4L884.4 132.8L888.3 149.9L892.1 177.2L888.3 206.8L884.4 221.6L853.9 221.6L846.3 219L834.8 215.6L827.2 213.6L823.4 212.7L811.9 208.7L804.3 206.3L792.8 203.1L781.4 199.6L766.1 195.3L762.3 194.3L754.6 194.2L739.4 194L731.7 193.9L727.9 196.4L724.1 199.4L720.3 202.8L716.5 206.8L712.7 214.9L710.4 221.6L712.1 266L716.5 283.8L720.3 294.7L724.1 310.4L727.9 316.5L731.7 323.7L735.6 329.6L739.4 336.5L743.2 344.8L747 354.8L750.8 358.2L754.6 362L758.5 366.1L762.3 370.7L766.1 375.7L769.9 381.4L773.7 387.9L777.5 395.2L780.1 399.2L785.2 404.9L792.8 414L796.6 418.3L800.5 423L804.3 428L808.1 433.4L811.9 440L813.8 443.6L823.4 465.8L827.2 473.6L831 482.8L832.9 488Z" fill="#FED98C" fill-rule="evenodd"/>
<path d="M846.3 500.1L850.1 515.5L853.9 532.4L1250.9 532.4L1250.9 44L893.6 44L895.9 66.2L899.7 88.4L903.5 101.1L907.3 112.6L911.2 123.1L915 132.8L915 221.6L911.2 233.2L907.3 239.4L903.5 243.2L899.7 245.8L895.9 247L888.3 248.7L884.4 249.4L876.8 247.7L865.3 245.6L853.9 243.8L834.8 238.3L827.2 236L819.5 233.7L811.9 231L804.3 227.7L800.5 225.9L796.6 223.9L792.8 221.6L785.2 218.9L773.7 215L766.1 212.5L762.3 211.4L754.6 213.1L750.8 214.1L743.2 216.5L739.4 218L735.6 219.7L731.7 221.6L731.7 266L735.6 285L739.4 310.4L743.2 316.1L747 323.1L750.8 329.2L754.6 336.3L758.5 344.7L762.3 354.8L766.1 359L769.9 363.7L773.7 369L777.5 375L781.4 379.2L785.2 384.4L789 390.9L792.8 399.2L796.6 403L800.5 407.1L804.3 411.5L808.1 416.3L811.9 421.9L815.7 428.2L819.5 435.3L823.4 443.6L827.2 449.6L831 456.7L834.8 465.1L838.6 475.3L843 488Z" fill="#FECB79" fill-rule="evenodd"/>
<path d="M857.7 499.1L865.3 521.3L869.2 532.4L1243.3 532.4L1239.4 518.7L1235.6 510.2L1231.8 505.3L1228 501.3L1224.2 498.1L1220.4 495.4L1216.5 488L1212.7 470.2L1208.9 460.7L1205.1 454.7L1201.3 446.2L1200 443.6L1201.3 437.7L1205.1 425.8L1208.9 422.5L1212.7 419.4L1216.5 416.6L1220.4 414L1224.2 408.1L1228 399.2L1224.2 385.5L1220.4 377L1217.3 354.8L1220.4 348.5L1224.2 348.1L1239.4 347.2L1250.9 346.7L1250.9 44L908.9 44L911.2 53.5L915 66.2L918.8 76.6L922.6 88.4L926.4 108.1L930.2 132.8L937.9 166.1L940.4 177.2L941.7 181.4L945.5 192L949.3 200.4L953.1 209.5L957 219.5L957.7 221.6L960.8 266L957 271.2L953.1 275.9L949.3 280L945.5 283.8L934.1 283.2L926.4 283L918.8 282.7L915 282.6L903.5 279.9L888.3 276.6L884.4 275.9L876.8 273.6L865.3 270L857.7 267.4L853.9 266L838.6 261.6L831 259.3L823.4 257.1L815.7 256.4L808.1 255.6L796.6 254L792.8 253.3L785.2 254.4L777.5 256.1L773.7 257.4L769.9 259.2L766.1 261.8L762.3 266L762.3 310.4L766.1 313.2L769.9 317.8L773.7 327L777.5 354.8L781.4 357L785.2 359.7L789 363.1L792.8 367.5L796.6 373.1L800.5 379.9L804.3 388.4L808.1 399.2L811.9 403.7L815.7 408.9L819.5 414.7L823.4 421.4L827.2 425.1L831 429.7L834.8 435.7L838.6 443.6L842.4 452.1L846.3 462.1L850.1 473.9L853.9 488Z" fill="#FDBF65" fill-rule="evenodd"/>
<path d="M873 495.4L876.8 504.6L880.6 516.5L884.4 532.4L1220.4 532.4L1216.5 527.5L1212.7 521.8L1208.9 515.3L1205.1 507.7L1201.3 498.8L1197.5 488L1193.6 478.7L1189.8 470.2L1174.6 456.9L1166.9 450.3L1159.3 443.6L1155.5 433.2L1151.6 423.9L1147.8 415.6L1144 408.1L1140.2 401.3L1138.9 399.2L1140.2 384.4L1144 354.8L1140.2 351.4L1136.4 348.5L1132.6 345.9L1128.7 343.7L1124.9 341.7L1117.3 338.4L1113.5 337L1105.8 334.6L1098.2 332.6L1094.4 330.9L1090.6 329.4L1082.9 327L1067.7 325.2L1063.8 323.5L1060 321.5L1056.2 319.3L1052.4 316.7L1048.6 313.8L1044.8 310.4L1040.9 301.9L1037.1 295.6L1033.3 291.4L1029.5 285.7L1025.7 277.8L1021.9 266L1025.7 257.1L1029.5 251.2L1033.3 247L1037.1 243.8L1044.8 242.5L1052.4 241.3L1063.8 239.8L1067.7 239.4L1071.5 236.4L1075.3 232.7L1079.1 227.9L1082.9 221.6L1086.8 216.2L1090.6 212.3L1094.4 209.2L1098.2 206.8L1105.8 211.5L1109.7 214.2L1113.5 217.2L1118.6 221.6L1121.1 226L1124.9 231.7L1132.6 241.1L1136.4 245.5L1140.2 249.6L1144 253.3L1147.8 256.8L1151.6 260.1L1159.3 266L1163.1 269.6L1170.7 275.9L1178.4 281.3L1182.2 283.8L1186 286.1L1189.8 288.2L1193.6 292.4L1197.5 296.5L1212.7 313.1L1216.5 315.6L1220.4 316.7L1224.2 318.5L1228 320.1L1231.8 321.5L1239.4 323.8L1247.1 325.7L1250.9 326.5L1250.9 44L930.2 44L937.9 66.2L945.5 88.4L949.3 103.2L953.1 115L957 124.7L960.8 132.8L976 177.2L979.9 180.6L983.7 186.1L987.5 196.2L991.3 221.6L994.4 266L991.3 280.8L987.5 292.6L983.7 300.5L979.9 306.2L972.2 314.6L968.4 317.2L964.6 319L960.8 320.3L953.1 322L945.5 323.1L930.2 316.7L922.6 313.6L915 310.4L911.2 309L899.7 305.2L888.3 301.6L884.4 300.5L876.8 299L861.5 295.6L853.9 293.8L846.3 293.6L838.6 293.3L831 293L823.4 292.6L819.5 296.4L815.7 301.5L811.9 308.6L811.1 310.4L811.1 354.8L811.9 356.2L815.7 365L819.5 378.1L823.4 399.2L827.2 400.4L831 402L834.8 404L838.6 406.6L842.4 410.3L846.3 415.8L850.1 425.1L853.9 443.6L857.7 452L861.5 461.9L865.3 473.7L869.2 488Z" fill="#FDB153" fill-rule="evenodd"/>
<path d="M903.5 507.7L906.2 532.4L1189.8 532.4L1186 525.3L1182.2 518.7L1178.4 512.7L1174.6 507L1170.7 500.9L1166.9 495.8L1163.1 491.6L1159.3 488L1155.5 481.7L1151.6 475.9L1147.8 470.6L1144 465.8L1140.2 461.4L1136.4 457.3L1132.6 453.5L1128.7 449.9L1124.9 447.2L1121.1 443.6L1109.7 421.4L1098.2 399.2L1094.4 392.9L1090.6 384.4L1086.8 372.6L1082.9 354.8L1075.3 352.2L1067.7 349.9L1052.4 348.5L1044.8 347.4L1037.1 345.9L1034.1 354.8L1037.1 369.6L1040.9 374.5L1044.8 384.4L1047.3 399.2L1044.8 408.1L1040.9 416.3L1037.1 421.4L1006.6 421.4L995.1 419.1L987.5 417.3L979.9 415.2L976 414L972.2 409.3L968.4 403.6L965.9 399.2L949.3 363.1L945.5 354.8L934.1 350L930.2 348.5L915 342.1L903.5 340.6L895.9 339.4L888.3 337.9L884.4 337L880.6 339.6L876.8 343L873 347.7L869.2 354.8L872.2 399.2L873 406.6L875.7 443.6L880.6 456.5L884.4 465.8L888.3 469.6L892.1 474.3L895.9 480.3L899.7 488ZM1224.2 268.9L1228 271.9L1231.8 275.2L1235.6 278.7L1239.4 282.4L1243.3 286.5L1247.1 290.9L1250.9 295.6L1250.9 56.1L1247.1 54.6L1243.3 52.9L1239.4 51L1235.6 48.9L1230.5 44L965.9 44L968.4 48.9L972.2 54.6L976 58.8L979.9 60.6L999 69.9L1006.6 73.6L1010.4 76.3L1014.2 79.5L1018 83.5L1021.9 88.4L1025.7 95.2L1029.5 101.1L1033.3 106.2L1037.1 110.6L1040.9 111.9L1044.8 113.1L1052.4 115L1060 116.7L1067.7 118L1075.3 120.7L1079.1 122.2L1082.9 123.9L1086.8 125.8L1090.6 127.9L1094.4 130.2L1098.2 132.8L1102 142.7L1105.8 150.6L1109.7 157L1113.5 162.4L1117.3 167L1121.1 170.9L1124.9 174.2L1128.7 177.2L1132.6 178.7L1136.4 180.4L1140.2 182.3L1144 184.6L1147.8 187.3L1151.6 190.5L1155.5 194.5L1159.3 199.4L1163.1 198.4L1166.9 196.2L1170.7 186.1L1171.5 177.2L1174.6 174.2L1178.4 171.2L1182.2 168.8L1186 169.7L1189.8 172.9L1194.4 177.2L1193.6 179.9L1189.8 190.5L1186 199.9L1182.2 205.5L1178.4 207.9L1174.6 221.6L1189.8 232.7L1193.6 234.9L1197.5 237.5L1201.3 240.4L1205.1 243.8L1208.9 247.8L1212.7 252.7L1216.5 258.6L1220.4 266Z" fill="#FCA142" fill-rule="evenodd"/>
<path d="M979.9 491.9L983.7 496.1L987.5 500.7L991.3 505.8L995.1 496.1L996.4 488L995.1 484.6L991.3 476.9L987.5 479.1L983.7 481.7L979.9 484.6L976.1 488ZM1117.3 492.2L1121.1 496.1L1124.9 499.6L1128.7 502.8L1132.6 494.2L1133.8 488L1132.6 486.4L1128.7 481.7L1124.9 482.7L1121.1 484L1117.3 485.7L1113.5 488ZM1147.8 532.4L1159.3 532.4L1155.5 526.7L1151.6 524L1147.8 527.5L1145 532.4ZM1224.2 135.5L1231.8 140.4L1235.6 142.7L1239.4 144.8L1250.9 150.6L1250.9 76.3L1239.4 74.4L1235.6 73.6L1231.8 72.3L1228 70.6L1224.2 68.7L1220.4 66.2L1216.5 64L1212.7 60.7L1208.9 55.1L1205.1 44L1151.6 44L1155.5 57.7L1159.3 66.2L1174.6 88.4L1178.4 95.2L1182.2 101.1L1186 106.2L1189.8 110.6L1193.6 114.5L1197.5 118L1201.3 121.1L1205.1 123.9L1208.9 126.5L1212.7 128.8L1216.5 130.9L1220.4 132.8ZM1056.2 50.4L1060 53.1L1063.8 49.2L1067.7 44L1053.2 44Z" fill="#F99139" fill-rule="evenodd"/>
<path d="M884.9 48.9h0M912.4 48.9h0M939.8 48.9h0M967.2 48.9h0M994.7 48.9h0M1022.1 48.9h0M1049.6 48.9h0M1077.0 48.9h0M1104.4 48.9h0M1131.9 48.9h0M1159.3 48.9h0M1186.8 48.9h0M1214.2 48.9h0M1243.8 48.9h0M898.6 69.2h0M926.1 69.2h0M953.5 69.2h0M981.0 69.2h0M1008.4 69.2h0M1035.8 69.2h0M1063.3 69.2h0M1090.7 69.2h0M1118.2 69.2h0M1145.6 69.2h0M1173.0 69.2h0M1200.5 69.2h0M1228.6 69.2h0M912.4 91.2h0M939.8 91.2h0M967.2 91.2h0M994.7 91.2h0M1022.1 91.2h0M1049.6 91.2h0M1077.0 91.2h0M1104.4 91.2h0M1131.9 91.2h0M1159.3 91.2h0M1186.8 91.2h0M1214.2 91.2h0M1243.8 91.2h0M926.1 111.2h0M953.5 111.2h0M981.0 111.2h0M1008.4 111.2h0M1035.8 111.2h0M1063.3 111.2h0M1090.7 111.2h0M1118.2 111.2h0M1145.6 111.2h0M1173.0 111.2h0M1200.5 111.2h0M1228.6 111.2h0M912.4 131.2h0M939.8 131.2h0M967.2 131.2h0M994.7 131.2h0M1022.1 131.2h0M1049.6 131.2h0M1077.0 131.2h0M1104.4 131.2h0M1131.9 131.2h0M1159.3 131.2h0M1186.8 131.2h0M1214.2 131.2h0M1243.8 131.2h0M926.1 151.1h0M953.5 151.1h0M981.0 151.1h0M1008.4 151.1h0M1035.8 151.1h0M1063.3 151.1h0M1090.7 151.1h0M1118.2 151.1h0M1145.6 151.1h0M1173.0 151.1h0M1200.5 151.1h0M1228.6 151.1h0M912.4 171.1h0M939.8 171.1h0M967.2 171.1h0M994.7 171.1h0M1022.1 171.1h0M1049.6 171.1h0M1077.0 171.1h0M1104.4 171.1h0M1131.9 171.1h0M1159.3 171.1h0M1186.8 171.1h0M1214.2 171.1h0M1243.8 171.1h0M926.1 191.1h0M953.5 191.1h0M981.0 191.1h0M1008.4 191.1h0M1035.8 191.1h0M1063.3 191.1h0M1090.7 191.1h0M1118.2 191.1h0M1145.6 191.1h0M1173.0 191.1h0M1200.5 191.1h0M1228.6 191.1h0M775.2 211.1h0M802.6 211.1h0M830.0 211.1h0M857.5 211.1h0M912.4 211.1h0M939.8 211.1h0M967.2 211.1h0M994.7 211.1h0M1022.1 211.1h0M1049.6 211.1h0M1077.0 211.1h0M1104.4 211.1h0M1131.9 211.1h0M1159.3 211.1h0M1186.8 211.1h0M1214.2 211.1h0M1243.8 211.1h0M761.4 231.1h0M788.9 231.1h0M816.3 231.1h0M843.8 231.1h0M926.1 231.1h0M953.5 231.1h0M981.0 231.1h0M1008.4 231.1h0M1035.8 231.1h0M1063.3 231.1h0M1090.7 231.1h0M1118.2 231.1h0M1145.6 231.1h0M1173.0 231.1h0M1200.5 231.1h0M1228.6 231.1h0M747.7 251.0h0M775.2 251.0h0M802.6 251.0h0M830.0 251.0h0M857.5 251.0h0M884.9 251.0h0M912.4 251.0h0M939.8 251.0h0M967.2 251.0h0M994.7 251.0h0M1022.1 251.0h0M1049.6 251.0h0M1077.0 251.0h0M1104.4 251.0h0M1131.9 251.0h0M1159.3 251.0h0M1186.8 251.0h0M1214.2 251.0h0M1243.8 251.0h0M734.0 271.0h0M761.4 271.0h0M788.9 271.0h0M816.3 271.0h0M843.8 271.0h0M871.2 271.0h0M898.6 271.0h0M926.1 271.0h0M953.5 271.0h0M981.0 271.0h0M1008.4 271.0h0M1035.8 271.0h0M1063.3 271.0h0M1090.7 271.0h0M1118.2 271.0h0M1145.6 271.0h0M1173.0 271.0h0M1200.5 271.0h0M1228.6 271.0h0M747.7 291.0h0M775.2 291.0h0M802.6 291.0h0M830.0 291.0h0M857.5 291.0h0M884.9 291.0h0M912.4 291.0h0M939.8 291.0h0M967.2 291.0h0M994.7 291.0h0M1022.1 291.0h0M1049.6 291.0h0M1077.0 291.0h0M1104.4 291.0h0M1131.9 291.0h0M1159.3 291.0h0M1186.8 291.0h0M1214.2 291.0h0M1243.8 291.0h0M761.4 311.0h0M788.9 311.0h0M816.3 311.0h0M843.8 311.0h0M871.2 311.0h0M898.6 311.0h0M926.1 311.0h0M953.5 311.0h0M981.0 311.0h0M1008.4 311.0h0M1035.8 311.0h0M1063.3 311.0h0M1090.7 311.0h0M1118.2 311.0h0M1145.6 311.0h0M1173.0 311.0h0M1200.5 311.0h0M1228.6 311.0h0M747.7 331.0h0M775.2 331.0h0M802.6 331.0h0M830.0 331.0h0M857.5 331.0h0M884.9 331.0h0M912.4 331.0h0M939.8 331.0h0M967.2 331.0h0M994.7 331.0h0M1022.1 331.0h0M1049.6 331.0h0M1077.0 331.0h0M1104.4 331.0h0M1131.9 331.0h0M1159.3 331.0h0M1186.8 331.0h0M1214.2 331.0h0M1243.8 331.0h0M761.4 350.9h0M788.9 350.9h0M816.3 350.9h0M843.8 350.9h0M871.2 350.9h0M898.6 350.9h0M926.1 350.9h0M953.5 350.9h0M981.0 350.9h0M1008.4 350.9h0M1035.8 350.9h0M1063.3 350.9h0M1090.7 350.9h0M1118.2 350.9h0M1145.6 350.9h0M1173.0 350.9h0M1200.5 350.9h0M1228.6 350.9h0M775.2 370.9h0M802.6 370.9h0M830.0 370.9h0M857.5 370.9h0M884.9 370.9h0M912.4 370.9h0M939.8 370.9h0M967.2 370.9h0M994.7 370.9h0M1022.1 370.9h0M1049.6 370.9h0M1077.0 370.9h0M1104.4 370.9h0M1131.9 370.9h0M1159.3 370.9h0M1186.8 370.9h0M1214.2 370.9h0M1243.8 370.9h0M788.9 390.9h0M816.3 390.9h0M843.8 390.9h0M871.2 390.9h0M898.6 390.9h0M926.1 390.9h0M953.5 390.9h0M981.0 390.9h0M1008.4 390.9h0M1035.8 390.9h0M1063.3 390.9h0M1090.7 390.9h0M1118.2 390.9h0M1145.6 390.9h0M1173.0 390.9h0M1200.5 390.9h0M1228.6 390.9h0M802.6 410.9h0M830.0 410.9h0M857.5 410.9h0M884.9 410.9h0M912.4 410.9h0M939.8 410.9h0M967.2 410.9h0M994.7 410.9h0M1022.1 410.9h0M1049.6 410.9h0M1077.0 410.9h0M1104.4 410.9h0M1131.9 410.9h0M1159.3 410.9h0M1186.8 410.9h0M1214.2 410.9h0M1243.8 410.9h0M816.3 430.9h0M843.8 430.9h0M871.2 430.9h0M898.6 430.9h0M926.1 430.9h0M953.5 430.9h0M981.0 430.9h0M1008.4 430.9h0M1035.8 430.9h0M1063.3 430.9h0M1090.7 430.9h0M1118.2 430.9h0M1145.6 430.9h0M1173.0 430.9h0M1200.5 430.9h0M1228.6 430.9h0M830.0 450.8h0M857.5 450.8h0M884.9 450.8h0M912.4 450.8h0M939.8 450.8h0M967.2 450.8h0M994.7 450.8h0M1022.1 450.8h0M1049.6 450.8h0M1077.0 450.8h0M1104.4 450.8h0M1131.9 450.8h0M1159.3 450.8h0M1186.8 450.8h0M1214.2 450.8h0M1243.8 450.8h0M843.8 470.8h0M871.2 470.8h0M898.6 470.8h0M926.1 470.8h0M953.5 470.8h0M981.0 470.8h0M1008.4 470.8h0M1035.8 470.8h0M1063.3 470.8h0M1090.7 470.8h0M1118.2 470.8h0M1145.6 470.8h0M1173.0 470.8h0M1200.5 470.8h0M1228.6 470.8h0M857.5 490.8h0M884.9 490.8h0M912.4 490.8h0M939.8 490.8h0M967.2 490.8h0M994.7 490.8h0M1022.1 490.8h0M1049.6 490.8h0M1077.0 490.8h0M1104.4 490.8h0M1131.9 490.8h0M1159.3 490.8h0M1186.8 490.8h0M1214.2 490.8h0M1243.8 490.8h0M843.8 513.6h0M871.2 513.6h0M898.6 513.6h0M926.1 513.6h0M953.5 513.6h0M981.0 513.6h0M1008.4 513.6h0M1035.8 513.6h0M1063.3 513.6h0M1090.7 513.6h0M1118.2 513.6h0M1145.6 513.6h0M1173.0 513.6h0M1200.5 513.6h0M1228.6 513.6h0M857.5 531.8h0M884.9 531.8h0M912.4 531.8h0M939.8 531.8h0M967.2 531.8h0M994.7 531.8h0M1022.1 531.8h0M1049.6 531.8h0M1077.0 531.8h0M1104.4 531.8h0M1131.9 531.8h0M1159.3 531.8h0M1186.8 531.8h0M1214.2 531.8h0M1243.8 531.8h0" stroke="#000" stroke-width="3.9" stroke-linecap="round" fill="none"/>
<path d="M701.2 532.4V538.2M701.2 44.0V38.2M762.3 532.4V538.2M762.3 44.0V38.2M823.4 532.4V538.2M823.4 44.0V38.2M884.4 532.4V538.2M884.4 44.0V38.2M945.5 532.4V538.2M945.5 44.0V38.2M1006.6 532.4V538.2M1006.6 44.0V38.2M1067.7 532.4V538.2M1067.7 44.0V38.2M1128.7 532.4V538.2M1128.7 44.0V38.2M1189.8 532.4V538.2M1189.8 44.0V38.2M1250.9 532.4V538.2M1250.9 44.0V38.2M701.2 532.4H695.4M1250.9 532.4H1256.7M701.2 488.0H695.4M1250.9 488.0H1256.7M701.2 443.6H695.4M1250.9 443.6H1256.7M701.2 399.2H695.4M1250.9 399.2H1256.7M701.2 354.8H695.4M1250.9 354.8H1256.7M701.2 310.4H695.4M1250.9 310.4H1256.7M701.2 266.0H695.4M1250.9 266.0H1256.7M701.2 221.6H695.4M1250.9 221.6H1256.7M701.2 177.2H695.4M1250.9 177.2H1256.7M701.2 132.8H695.4M1250.9 132.8H1256.7M701.2 88.4H695.4M1250.9 88.4H1256.7M701.2 44.0H695.4M1250.9 44.0H1256.7" stroke="#1e1e1e" stroke-width="1.8" fill="none"/>
<rect x="701.2" y="44.0" width="549.7" height="488.4" fill="none" stroke="#1e1e1e" stroke-width="1.8"/>
<text x="701.2" y="577.0" text-anchor="middle" font-family="'Liberation Sans', sans-serif" font-size="28" fill="#262626">0</text>
<text x="762.3" y="577.0" text-anchor="middle" font-family="'Liberation Sans', sans-serif" font-size="28" fill="#262626">2</text>
<text x="823.4" y="577.0" text-anchor="middle" font-family="'Liberation Sans', sans-serif" font-size="28" fill="#262626">4</text>
<text x="884.4" y="577.0" text-anchor="middle" font-family="'Liberation Sans', sans-serif" font-size="28" fill="#262626">6</text>
<text x="945.5" y="577.0" text-anchor="middle" font-family="'Liberation Sans', sans-serif" font-size="28" fill="#262626">8</text>
<text x="1006.6" y="577.0" text-anchor="middle" font-family="'Liberation Sans', sans-serif" font-size="28" fill="#262626">10</text>
<text x="1067.7" y="577.0" text-anchor="middle" font-family="'Liberation Sans', sans-serif" font-size="28" fill="#262626">12</text>
<text x="1128.7" y="577.0" text-anchor="middle" font-family="'Liberation Sans', sans-serif" font-size="28" fill="#262626">14</text>
<text x="1189.8" y="577.0" text-anchor="middle" font-family="'Liberation Sans', sans-serif" font-size="28" fill="#262626">16</text>
<text x="1250.9" y="577.0" text-anchor="middle" font-family="'Liberation Sans', sans-serif" font-size="28" fill="#262626">18</text>
<text x="685.3" y="543.4" text-anchor="end" font-family="'Liberation Sans', sans-serif" font-size="28" fill="#262626">J</text>
<text x="685.3" y="499.0" text-anchor="end" font-family="'Liberation Sans', sans-serif" font-size="28" fill="#262626">F</text>
<text x="685.3" y="454.6" text-anchor="end" font-family="'Liberation Sans', sans-serif" font-size="28" fill="#262626">M</text>
<text x="685.3" y="410.2" text-anchor="end" font-family="'Liberation Sans', sans-serif" font-size="28" fill="#262626">A</text>
<text x="685.3" y="365.8" text-anchor="end" font-family="'Liberation Sans', sans-serif" font-size="28" fill="#262626">M</text>
<text x="685.3" y="321.4" text-anchor="end" font-family="'Liberation Sans', sans-serif" font-size="28" fill="#262626">J</text>
<text x="685.3" y="277.0" text-anchor="end" font-family="'Liberation Sans', sans-serif" font-size="28" fill="#262626">J</text>
<text x="685.3" y="232.6" text-anchor="end" font-family="'Liberation Sans', sans-serif" font-size="28" fill="#262626">A</text>
<text x="685.3" y="188.2" text-anchor="end" font-family="'Liberation Sans', sans-serif" font-size="28" fill="#262626">S</text>
<text x="685.3" y="143.8" text-anchor="end" font-family="'Liberation Sans', sans-serif" font-size="28" fill="#262626">O</text>
<text x="685.3" y="99.4" text-anchor="end" font-family="'Liberation Sans', sans-serif" font-size="28" fill="#262626">N</text>
<text x="685.3" y="55.0" text-anchor="end" font-family="'Liberation Sans', sans-serif" font-size="28" fill="#262626">D</text>
<text x="976.1" y="614.0" text-anchor="middle" font-family="'Liberation Sans', sans-serif" font-size="28" fill="#262626">Lag Months</text>
<rect x="41.6" y="673.1" width="549.4" height="487.8" fill="#EBF8FD"/>
<path d="M45.4 1160.9L591 1160.9L591 673.1L41.6 673.1L41.6 1050L45.4 1059.5L49.2 1072.2L45.4 1083L41.6 1090.7L41.6 1160.9Z" fill="#F3FBFE" fill-rule="evenodd"/>
<path d="M45.4 1160.9L591 1160.9L591 673.1L41.6 673.1L41.6 1027.9L45.4 1034.2L49.2 1042.6L53 1054.5L56.9 1072.2L53 1088.6L49.2 1098.3L45.4 1104.7L41.6 1109.2L41.6 1160.9Z" fill="#FBFEFF" fill-rule="evenodd"/>
<path d="M45.4 1160.9L591 1160.9L591 673.1L41.6 673.1L41.6 1000.1L45.4 1011.6L49.2 1019L53 1024.5L56.9 1027.9L60.7 1044.8L64.5 1060.1L67.8 1072.2L64.5 1094.4L60.7 1108.2L56.9 1116.6L49.2 1127.6L41.6 1138.7L41.6 1160.9Z" fill="#FFFDED" fill-rule="evenodd"/>
<path d="M53 1160.9L591 1160.9L591 673.1L41.6 673.1L41.6 981L43.8 983.5L45.4 990L49.2 1001.3L53 1010.8L56.9 1016.8L60.7 1022.1L64.5 1026.2L66.4 1027.9L68.3 1035.6L72.1 1050L75.9 1065.9L77.8 1072.2L78.2 1116.6L72.1 1129.2L68.3 1134.6L64.5 1140.4L60.7 1146.7L56.9 1153.5L51.8 1160.9Z" fill="#FFF8E2" fill-rule="evenodd"/>
<path d="M72.1 1160.9L591 1160.9L591 673.1L41.6 673.1L41.6 974.6L45.4 978.9L49.2 983.5L53 997.2L56.9 1005.7L60.7 1012.4L64.5 1017.6L68.3 1021.5L72.1 1024.9L74.7 1027.9L75.9 1034.2L79.8 1050L83.6 1062.4L87.4 1072.2L91.2 1112.5L91.7 1116.6L87.4 1129.2L79.8 1145.1Z" fill="#FFF3D0" fill-rule="evenodd"/>
<path d="M91.2 1160.9L591 1160.9L591 673.1L41.6 673.1L41.6 968.3L45.4 972.2L49.2 976.5L53 983.5L56.9 994.6L60.7 1002.8L64.5 1009.1L68.3 1013.6L72.1 1017.5L79.8 1026.3L81 1027.9L83.6 1037.7L87.4 1050L91.2 1061.7L95 1072.2L98.8 1098.3L102.6 1116.6L87.4 1160.9Z" fill="#FFEDBE" fill-rule="evenodd"/>
<path d="M98.8 1160.9L591 1160.9L591 673.1L41.6 673.1L41.6 962L45.4 965.5L49.2 969.4L53 975.7L56.9 983.5L60.7 993.2L64.5 1000.6L68.3 1005.7L72.1 1010.1L79.8 1018.7L83.6 1023.2L87.4 1027.9L91.2 1040.5L95 1052.1L98.8 1062.6L102.6 1072.2L106.5 1098.3L108.5 1116.6L106.5 1130.1L102.6 1148.2L98.3 1160.9Z" fill="#FEE3A3" fill-rule="evenodd"/>
<path d="M110.3 1160.9L591 1160.9L591 673.1L41.6 673.1L41.6 955.6L45.4 958.8L49.2 962.4L53 967.8L56.9 974.6L60.7 983.5L64.5 992L68.3 997.8L72.1 1002.7L79.8 1011L87.4 1019.9L91.2 1024.5L93.7 1027.9L98.8 1043.3L102.6 1053.7L110.3 1072.2L114.1 1112.5L114.4 1116.6L114.1 1120L110.3 1151L108.4 1160.9ZM468.9 850.5L465.1 839.4L438.4 839.4L434.6 833.7L430.8 829.4L426.9 826L423.1 823.2L419.3 820.9L415.5 819L411.7 817.4L407.9 816L404.1 810.3L401.1 806.1L400.2 802.7L396.4 792.2L392.6 786L388.8 781.9L385 779L381.2 776.8L377.3 775.1L368.2 761.8L369.7 756.9L373.5 747L377.3 739.6L388.8 742.1L400.2 744.1L407.9 745.2L419.3 747.9L434.6 751.2L438.4 751.9L442.2 753.7L446 755.9L449.8 758.5L453.6 761.8L457.5 775.4L461.3 787.1L465.1 797.3L468.9 806.1Z" fill="#FED98C" fill-rule="evenodd"/>
<path d="M121.7 1160.9L591 1160.9L591 1072.2L587.2 1068.7L583.4 1065.4L579.6 1062.4L575.7 1059.5L571.9 1056.9L564.3 1052.2L560.5 1050L556.7 1045.1L552.8 1041.2L549 1037.9L545.2 1035.3L541.4 1033L537.6 1031L533.8 1029.3L530 1027.9L526.1 1021.5L522.3 1016.8L518.5 1013.1L514.7 1010.1L510.9 1006.7L507.1 1004L503.2 1001.9L499.4 1000.1L495.6 995.3L491.8 990.9L488 987L484.2 983.5L480.4 972.9L476.5 965.8L472.7 960.7L468.9 956.9L465.1 946.7L462.1 939.2L461.3 936L457.5 924.8L453.6 917L449.8 911.2L446 906.8L442.2 903.2L438.4 900.4L434.6 894.8L430.8 882.2L426.9 871.2L423.1 861.6L419.3 853.1L418 850.5L415.5 847.6L411.7 843.9L407.9 840.6L404.1 834.3L396.4 822.6L392.6 817.2L388.8 812.1L384.1 806.1L381.2 801.8L377.3 797.3L354.5 764L352.9 761.8L354.5 747L358.3 727.3L362.1 717.4L365.9 714.5L369.7 711.9L373.5 709.6L377.3 707.6L385 709.8L392.6 712.2L407.9 717.4L415.5 720.1L423.1 722.7L426.9 723.9L430.8 725L438.4 727.3L442.2 726.9L449.8 725.7L457.5 723.8L461.3 722.4L465.1 720.4L468.9 717.4L476.5 714L484.2 711.1L488 714L491.8 717.4L495.6 728.5L499.4 735.2L503.2 737L507.1 738.7L510.9 740.1L518.5 742.4L526.1 744.3L530 745.2L537.6 744.1L549 742.1L556.7 740.5L560.5 739.6L564.3 736.5L568.1 732.2L571.9 726.3L575.7 717.4L579.6 712.5L583.4 707.2L587.2 701.5L591 695.3L591 673.1L41.6 673.1L41.6 949.3L45.4 952.2L49.2 955.4L53 960L56.9 965.8L60.7 973.3L64.5 983.5L68.3 989.9L72.1 995.3L79.8 1003.4L83.6 1007.6L91.2 1016.3L95 1020.9L98.8 1026L100.1 1027.9L102.6 1035.3L110.3 1053.7L117.9 1072.2L121 1116.6L117.9 1160.9ZM552.8 898.2L556.7 902.5L560.5 905.9L575.7 907.5L587.2 909L591 909.6L591 806.1L587.2 815L583.4 820.9L579.6 825.1L575.7 828.3L571.9 830.8L568.1 832.7L564.3 834.4L560.5 835.7L541.4 844.9L530 850.5L533.8 853.6L537.6 857.9L541.4 863.8L545.2 872.7L549 887.4L550.3 894.8Z" fill="#FECB79" fill-rule="evenodd"/>
<path d="M129.4 1160.9L584.2 1160.9L583.4 1154.6L579.6 1132.2L575.7 1116.6L571.9 1109.2L568.1 1103.3L564.3 1098.4L560.5 1094.4L556.7 1088.5L549 1077.4L541.4 1067.1L537.6 1062.7L533.8 1058.9L530 1055.6L526.1 1051.3L522.3 1047.6L518.5 1044.2L514.7 1041.2L510.9 1037.4L507.1 1033.9L499.4 1027.9L495.6 1021.3L491.8 1015.5L488 1010.4L484.2 1005.7L480.4 1001.5L476.5 997.6L472.7 994.1L468.9 990.9L462.8 983.5L457.5 969.1L453.6 959.3L449.8 949.1L445.2 939.2L442.2 933.8L438.4 928.1L434.6 920.5L430.8 914L426.9 908.3L423.1 903.3L419.3 898.8L415.5 894.8L411.7 885.5L407.9 877.1L400.2 852.8L399.5 850.5L392.6 839.4L388.8 833.7L385 828.3L381.2 823.2L373.5 813.3L368.2 806.1L337.7 761.8L335.4 744.1L331.6 726.3L328.5 717.4L343 696.4L346.8 690.8L350.6 689.2L358.3 686.7L365.9 684.9L373.5 683.5L377.3 683L385 684.5L392.6 686.1L407.9 689.7L415.5 694L423.1 697.7L426.9 699.5L434.6 702.7L438.4 704.1L453.6 701.3L465.1 699.5L468.9 699L472.7 697.9L484.2 695.3L488 697L491.8 699L495.6 701.3L499.4 704.1L503.2 706.1L514.7 711.4L522.3 714.6L530 717.4L537.6 715.5L545.2 713.2L549 712L556.7 709.2L560.5 707.6L564.3 703.1L568.1 698L571.9 692.3L575.7 685.8L579.6 679.7L583.4 673.1L41.6 673.1L41.6 943L45.4 945.5L49.2 948.3L53 952.1L56.9 956.9L60.7 963.1L64.5 971.5L68.3 980.8L69.3 983.5L72.1 988L79.8 995.8L87.4 1004.1L91.2 1008L95 1012.2L98.8 1016.9L102.6 1022.1L106.5 1026.8L107.2 1027.9L117.9 1053.7L121.7 1062.6L125.5 1072.2L128.6 1116.6L125.5 1160.9Z" fill="#FDBF65" fill-rule="evenodd"/>
<path d="M137 1160.9L567.3 1160.9L564.3 1150.2L560.5 1138.7L556.7 1128L551.8 1116.6L545.2 1106.3L537.6 1095.2L533.8 1089.9L530 1084.9L526.1 1078.3L522.3 1072.2L518.5 1067.5L514.7 1063.3L510.9 1058.5L507.1 1054.1L503.2 1050L499.4 1046.3L484.2 1027.9L480.4 1022.6L476.5 1017.8L472.7 1013.4L468.9 1009.4L457.5 995.5L453.6 990.9L449.8 984.5L449.3 983.5L446 973.7L442.2 964L438.4 955.8L434.6 947.2L430.8 938L426.9 930.8L423.1 924.4L419.3 918.7L415.5 913.7L411.7 909.2L407.9 905.1L398.7 894.8L396.4 887.6L392.6 875.1L388.8 861.9L385.7 850.5L381.2 843.8L377.3 838.4L373.5 833.7L365.9 823.9L354.5 808.3L346.8 797.3L331.6 775.1L327.7 769.6L322.4 761.8L320.1 754.2L316.3 744.1L312.5 731.2L308.7 721L307.1 717.4L308.7 710.6L312.5 698.6L316.3 690.8L328.5 673.1L41.6 673.1L41.6 934L46 939.2L49.2 941.3L53 944.3L56.9 948L60.7 952.9L64.5 959.5L68.3 967.1L72.1 977.2L75.2 983.5L75.9 984.3L79.8 988.1L87.4 996.2L91.2 999.7L95 1003.5L98.8 1007.7L102.6 1012.4L106.5 1016.3L110.3 1021L114.9 1027.9L117.9 1035.3L121.7 1043.3L125.5 1052.1L129.4 1061.7L133.2 1072.2L135.7 1116.6L133.2 1160.9ZM426.9 675.5L430.8 677.8L438.4 682L446 681.5L453.6 681.2L465.1 680.6L468.9 680.5L476.5 679.9L484.2 679.4L491.8 680.5L499.4 682L503.2 684.5L510.9 689.1L522.3 695.3L526.1 697.2L530 699L537.6 695.8L545.2 692.1L549 690.1L552.8 687.9L556.7 685.5L560.5 683L564.3 677L566.6 673.1L423.1 673.1Z" fill="#FDB153" fill-rule="evenodd"/>
<path d="M144.6 1160.9L551.3 1160.9L549 1154.4L545.2 1144.8L541.4 1136.4L537.6 1129L533.8 1122.4L530 1116.6L526.1 1108.9L522.3 1101.8L518.5 1095.1L514.7 1088.8L505.5 1072.2L503.2 1069.3L488 1051L480.4 1041.7L468.9 1027.9L457.5 1014L453.6 1009.4L449.8 1003.8L446 997.6L442.2 990.9L434.6 976.2L430.8 968.2L426.9 959.3L423.1 949.4L419.6 939.2L415.5 932.6L411.7 927.1L407.9 922.1L388.8 900.8L383.4 894.8L377.3 872.7L373.5 861.2L370.6 850.5L369.7 849.5L358.3 835L350.6 824.8L339.2 808.4L335.4 802.8L316.3 775.1L310.2 761.8L308.7 756.5L304.9 744.9L301 735.2L297.2 727L291.9 717.4L289.6 687.9L285.8 673.1L41.6 673.1L41.6 920.9L45.4 924.6L49.2 928.8L53 933.6L56.9 939.2L60.7 942.7L64.5 947.6L68.3 953.5L72.1 961.3L75.9 967.6L79.8 975.5L82.8 983.5L87.4 988.3L91.2 991.4L95 994.8L98.8 998.6L102.6 1002.8L106.5 1005.8L110.3 1009.4L114.1 1013.8L121.7 1024.7L123.6 1027.9L129.4 1040.5L133.2 1050L137 1062.4L139.5 1072.2L142.1 1116.6L140.8 1160.9ZM518.5 673.6L526.1 678.3L530 680.5L537.6 676.1L542.2 673.1L517.7 673.1Z" fill="#FCA142" fill-rule="evenodd"/>
<path d="M152.2 1160.9L536.1 1160.9L533.8 1155.9L530 1148.2L522.3 1131.3L518.5 1123.7L507.1 1102.7L503.2 1095.8L490.3 1072.2L472.7 1051L468.9 1046.3L465.1 1042.5L461.3 1038.2L457.5 1033.3L453.6 1027.9L449.8 1023L446 1017.8L442.2 1012L438.4 1005.7L434.6 1001.3L430.8 996.2L426.9 990.3L423.1 983.5L419.3 970.6L415.5 959.1L411.7 948.6L407.9 939.2L381.2 909.3L377.3 905.1L373.5 902.7L362.1 894.8L358.3 873.7L354.5 854.5L353.6 850.5L346.8 841.6L331.6 819.4L323.9 808.4L320.1 802.8L316.3 797.3L308.7 781.1L300 761.8L297.2 754.3L293.4 745.3L289.6 737.5L285.8 730.7L278.1 718.6L277.5 717.4L274.3 686.7L273.1 673.1L41.6 673.1L41.6 907.9L45.4 910.8L49.2 914L53 917.8L56.9 922.1L60.7 926.9L64.5 932.8L67.8 939.2L72.1 945.5L75.9 949.8L79.8 955.3L83.6 962.5L87.4 972.4L91.2 981.9L91.7 983.5L95 986.1L98.8 989.5L102.6 993.2L106.5 995.3L110.3 997.9L114.1 1001.1L121.7 1009L125.5 1014L129.4 1020.1L133.2 1027.9L137 1037.7L140.8 1050L144.6 1065.9L145.9 1072.2L148.4 1116.6L148.4 1160.9Z" fill="#F99139" fill-rule="evenodd"/>
<path d="M159.9 1160.9L316.3 1160.9L320.1 1156L323.9 1152L327.7 1148.8L331.6 1146.1L335.4 1143.8L339.2 1141.9L343 1140.2L346.8 1138.7L350.6 1141L354.5 1143.8L358.3 1147.4L362.1 1152L365.9 1158.3L367.2 1160.9L522.3 1160.9L518.5 1152.3L514.7 1144.3L510.9 1138L503.2 1124.2L499.4 1116.6L484.2 1088.8L480.4 1082.9L476.5 1075.6L475 1072.2L468.9 1064.8L465.1 1062L461.3 1058.8L457.5 1055.2L453.6 1051.2L449.8 1046.6L446 1041.3L442.2 1035.1L438.4 1027.9L434.6 1024.9L430.8 1021.5L426.9 1017.6L423.1 1013.1L419.3 1005.2L415.5 992.9L413.6 983.5L411.7 977.7L407.9 966.9L404.1 962.1L400.2 956.2L396.4 948.8L392.6 939.2L381.2 926.4L377.3 922.1L369.7 917.9L362.1 913.3L358.3 911.9L354.5 909.6L350.6 905.4L346.8 894.8L337.7 850.5L331.6 841.6L327.7 836.1L316.3 819.4L312.5 812.5L309.8 806.1L301 787.5L289.8 761.8L289.6 761.2L285.8 752.9L278.1 741.3L270.5 729.1L266.7 722.8L263.6 717.4L260.3 673.1L133.2 673.1L129.4 674.8L121.7 677.7L114.1 680L106.5 681.8L102.6 682.6L95 680.5L87.4 678.2L75.9 674.5L72.1 673.1L41.6 673.1L41.6 894.8L45.4 896.9L49.2 899.3L53 902L60.7 908L64.5 911.7L68.3 916.4L72.1 922.5L75.9 926.9L79.8 932.4L83.6 939.2L87.4 944.7L91.2 949L95 955.3L98.8 965.3L102.6 983.5L106.5 984.8L110.3 986.4L114.1 988.3L117.9 990.7L121.7 993.3L125.5 996.6L129.4 1000.6L133.2 1005.7L137 1011.7L140.8 1021L142.7 1027.9L144.6 1034.2L148.4 1050L156.1 1060.1L159.9 1065.9L163.7 1072.2L194.2 1072.2L167.5 1072.2L163.7 1116.6L159.9 1153.5L159.3 1160.9ZM224.7 1116.6L228.5 1111.6L232.4 1107.7L236.2 1104.5L240 1101.8L243.8 1099.5L247.6 1097.5L251.4 1095.9L255.3 1094.4L259.1 1096.7L262.9 1099.5L266.7 1103.1L270.5 1107.7L274.3 1113.9L275.6 1116.6L274.3 1122.9L270.5 1131.3L266.7 1134.8L262.9 1136.7L259.1 1137.9L255.3 1138.7L247.6 1132.2L243.8 1129.2L236.2 1123.7L232.4 1121.2L228.5 1118.8Z" fill="#F6802D" fill-rule="evenodd"/>
<path d="M175.1 1160.9L224.7 1160.9L205.7 1149.8L194.2 1143.2L186.6 1144.8L179 1146.1L175.1 1154.2L172.8 1160.9ZM442.2 1120.8L446 1126.4L449.8 1134.3L453.6 1146.1L456.7 1160.9L507.1 1160.9L503.2 1154.8L499.4 1148.2L495.6 1145.5L491.8 1141.2L488 1133.6L484.2 1116.6L480.4 1113.5L476.5 1109.7L472.7 1105L468.9 1098.8L465.1 1097.7L461.3 1096.1L457.5 1093.2L453.6 1087L450.6 1072.2L449.8 1071.6L446 1068.2L442.2 1064.2L438.4 1059.5L434.6 1060.9L430.8 1062.9L426.9 1066.1L423.1 1072.2L426.9 1085.9L430.8 1097.5L434.6 1107.7L438.4 1116.6ZM198 1030.1L209.5 1036.7L220.9 1043.4L224.7 1045.6L316.3 1045.6L320.1 1044.2L327.7 1040.9L331.6 1039L335.4 1036.7L339.2 1034.2L343 1031.3L346.8 1027.9L331.6 1005.7L316.3 983.5L312.5 980.1L308.7 977.2L304.9 974.6L301 972.4L293.4 968.7L285.8 965.8L278.1 964.5L262.9 962.3L255.3 961.3L251.4 957.5L247.6 953.3L243.8 948.7L240 943.6L236.9 939.2L240 894.8L243.8 891.9L247.6 889.3L251.4 887L255.3 885L282 883.9L285.8 883.7L289.6 885.3L293.4 887.4L297.2 890.4L301 894.8L304.9 901.2L308.7 905.9L312.5 909.6L316.3 912.6L320.1 910L323.9 906.7L327.7 901.9L331.6 894.8L327.7 885L323.9 865.3L322.4 850.5L316.3 841.6L312.5 837.8L308.7 832.7L304.9 825.6L301 815L298.9 806.1L297.2 802.6L293.4 794.2L285.8 776.6L282 771.1L278.1 764.7L276.6 761.8L270.5 752.5L262.9 740.2L255.3 727.3L251.4 722L248.5 717.4L247.6 710.1L243.8 682.6L242.2 673.1L148.4 673.1L144.6 682.3L140.8 688.9L137 693.9L133.2 697.7L125.5 698L117.9 698.2L110.3 698.3L102.6 698.4L95 696.9L87.4 695.3L75.9 692.6L72.1 691.6L60.7 689.9L45.4 687.2L41.6 686.4L41.6 872.7L45.4 875L49.2 877.6L53 880.5L56.9 883.7L60.7 886.2L64.5 888.9L72.1 894.8L75.9 896.4L79.8 898.2L83.6 900.6L87.4 903.7L91.2 906.5L95 909.6L98.8 913.1L106.5 920.9L110.3 924.4L114.1 927.5L117.9 930.3L121.7 932.8L125.5 935.1L133.2 939.2L133.2 983.5L137 984.9L140.8 986.9L144.6 990.5L148.4 998.3L152.2 1003.7L156.1 1010.1L159.9 1018L163.7 1027.9L194.2 1027.9ZM365.9 996.2L369.7 1001.3L373.5 1004L377.3 1005.7L381.2 1004L385 1001.3L388.8 996.2L392.6 983.5L388.8 978.3L385 970.8L381.2 959.3L377.3 939.2L369.7 935.6L362.1 931.8L358.3 934.6L354.5 939.2L358.3 968.7L362.1 983.5Z" fill="#F26A29" fill-rule="evenodd"/>
<path d="M182.8 985.6L190.4 989.3L194.2 990.9L201.8 991.6L209.5 992.4L217.1 993.4L224.7 994.6L228.5 991.2L232.4 986.9L234.9 983.5L232.4 981.1L228.5 977L224.7 972.4L194.2 972.4L190.4 974.6L186.6 977.2L182.8 980.1L179 983.5ZM129.4 898.7L133.2 902.2L137 903.7L140.8 905.4L144.6 907.3L148.4 909.6L159.9 911.9L163.7 912.6L167.5 905.9L171.3 894.8L175.1 888L179 882.2L182.8 879.5L186.6 876.4L190.4 872.7L194.2 868.2L224.7 868.2L228.5 866.6L236.2 864.1L243.8 862.3L251.4 860.9L255.3 860.3L262.9 859.4L270.5 858.3L278.1 857.2L285.8 856L289.6 853.6L293.4 850.5L289.6 832.7L288 806.1L285.8 801.2L282 797.5L278.1 793.3L274.3 788.2L270.5 782.3L266.7 775L262.9 766L261.4 761.8L255.3 751.9L251.4 748.1L247.6 743.8L243.8 738.9L240 733.3L236.2 726.8L231.5 717.4L228.5 703.3L224.7 687.9L220.9 681.4L217.1 677.5L213.3 674.9L209.5 673.1L163.7 673.1L159.9 700.8L156.1 710.1L152.2 714.7L148.4 717.4L144.6 718.8L140.8 720L133.2 721.9L129.4 720.6L125.5 719.4L117.9 717.4L110.3 715.7L102.6 714.3L83.6 711.8L72.1 710.1L64.5 709.7L56.9 709.4L41.6 708.6L41.6 850.5L45.4 851.6L49.2 852.9L60.7 857.6L68.3 861.2L75.9 865.3L87.4 871.2L95 874.8L102.6 878.2L106.5 880.5L110.3 883L117.9 888.5L121.7 891.5L125.5 894.8Z" fill="#EA5528" fill-rule="evenodd"/>
<path d="M106.5 851.9L110.3 853.4L117.9 856.8L125.5 860.7L129.4 862.9L133.2 865.3L144.6 866.2L163.7 868.2L167.5 862.6L171.3 857.9L175.1 853.9L178.9 850.5L179 850.5L182.8 841L186.6 833.9L190.4 828.3L194.2 823.9L224.7 823.9L232.4 822.5L243.8 820.1L255.3 817.2L259.1 810.9L261.4 806.1L259.1 802.5L255.3 795.1L251.4 791.9L247.6 787.7L243.8 781.7L240 772.9L236.9 761.8L232.4 756.2L228.5 750.7L224.7 744.1L220.9 738.1L217.1 726.3L215.6 717.4L213.3 711.9L209.5 704.8L198 703.3L194.2 702.7L186.6 703.3L179 703.8L175.1 713.1L173.9 717.4L171.3 737.2L167.5 748L163.7 752.9L159.9 751L156.1 749.4L152.2 748.1L148.4 747L140.8 745.3L137 744.6L133.2 744.1L129.4 741.5L125.5 739.3L121.7 737.9L106.5 734.5L102.6 733.6L95 732.9L79.8 731.5L72.1 730.7L56.9 732.2L53 733.1L45.4 735.2L41.6 736.5L41.6 822.8L45.4 825.7L49.2 828.3L53 830.6L56.9 832.7L64.5 835L72.1 837.2L75.9 838.5L83.6 841.5L91.2 844.8L98.8 848.5L102.6 850.5Z" fill="#E03F25" fill-rule="evenodd"/>
<path d="M53 807.3L56.9 810.6L72.1 815L79.8 816.6L91.2 819.4L98.8 821.6L102.6 822.8L121.7 823.3L133.2 823.9L137 822.5L144.6 819.2L148.4 817.2L152.2 812.5L156.1 806.1L152.2 799.6L148.4 793.5L144.6 789.7L140.8 785.7L137 781.3L133.2 776.6L129.4 765L128.6 761.8L125.5 759.1L121.7 757.5L114.1 756L102.6 753.7L72.1 752.9L64.5 754.8L56.9 756.9L53 759.2L49.2 761.8L51.8 806.1Z" fill="#D02B23" fill-rule="evenodd"/>
<path d="M59.5 678.0h0M88.1 678.0h0M115.6 678.0h0M143.0 678.0h0M170.4 678.0h0M197.9 678.0h0M225.3 678.0h0M252.8 678.0h0M280.2 678.0h0M307.6 678.0h0M335.1 678.0h0M362.5 678.0h0M390.0 678.0h0M417.4 678.0h0M444.8 678.0h0M472.3 678.0h0M499.7 678.0h0M527.2 678.0h0M554.6 678.0h0M584.2 678.0h0M45.1 698.3h0M74.4 698.3h0M101.8 698.3h0M129.3 698.3h0M156.7 698.3h0M184.2 698.3h0M211.6 698.3h0M239.0 698.3h0M266.5 698.3h0M293.9 698.3h0M321.4 698.3h0M376.2 698.3h0M403.7 698.3h0M431.1 698.3h0M458.6 698.3h0M486.0 698.3h0M513.4 698.3h0M540.9 698.3h0M569.0 698.3h0M59.5 720.3h0M88.1 720.3h0M115.6 720.3h0M143.0 720.3h0M170.4 720.3h0M197.9 720.3h0M225.3 720.3h0M252.8 720.3h0M280.2 720.3h0M307.6 720.3h0M390.0 720.3h0M417.4 720.3h0M444.8 720.3h0M472.3 720.3h0M499.7 720.3h0M527.2 720.3h0M554.6 720.3h0M45.1 740.3h0M74.4 740.3h0M101.8 740.3h0M129.3 740.3h0M156.7 740.3h0M184.2 740.3h0M211.6 740.3h0M239.0 740.3h0M266.5 740.3h0M293.9 740.3h0M321.4 740.3h0M458.6 740.3h0M486.0 740.3h0M513.4 740.3h0M540.9 740.3h0M569.0 740.3h0M59.5 760.3h0M88.1 760.3h0M115.6 760.3h0M143.0 760.3h0M170.4 760.3h0M197.9 760.3h0M225.3 760.3h0M252.8 760.3h0M280.2 760.3h0M307.6 760.3h0M335.1 760.3h0M472.3 760.3h0M499.7 760.3h0M527.2 760.3h0M554.6 760.3h0M584.2 760.3h0M45.1 780.2h0M74.4 780.2h0M101.8 780.2h0M129.3 780.2h0M156.7 780.2h0M184.2 780.2h0M211.6 780.2h0M239.0 780.2h0M266.5 780.2h0M293.9 780.2h0M321.4 780.2h0M348.8 780.2h0M486.0 780.2h0M513.4 780.2h0M540.9 780.2h0M569.0 780.2h0M59.5 800.2h0M88.1 800.2h0M115.6 800.2h0M143.0 800.2h0M170.4 800.2h0M197.9 800.2h0M225.3 800.2h0M252.8 800.2h0M280.2 800.2h0M307.6 800.2h0M335.1 800.2h0M362.5 800.2h0M390.0 800.2h0M499.7 800.2h0M527.2 800.2h0M554.6 800.2h0M584.2 800.2h0M45.1 820.2h0M74.4 820.2h0M101.8 820.2h0M129.3 820.2h0M156.7 820.2h0M184.2 820.2h0M211.6 820.2h0M239.0 820.2h0M266.5 820.2h0M293.9 820.2h0M321.4 820.2h0M348.8 820.2h0M376.2 820.2h0M486.0 820.2h0M513.4 820.2h0M540.9 820.2h0M569.0 820.2h0M59.5 840.2h0M88.1 840.2h0M115.6 840.2h0M143.0 840.2h0M170.4 840.2h0M197.9 840.2h0M225.3 840.2h0M252.8 840.2h0M280.2 840.2h0M307.6 840.2h0M335.1 840.2h0M362.5 840.2h0M390.0 840.2h0M417.4 840.2h0M499.7 840.2h0M527.2 840.2h0M554.6 840.2h0M584.2 840.2h0M45.1 860.2h0M74.4 860.2h0M101.8 860.2h0M129.3 860.2h0M156.7 860.2h0M184.2 860.2h0M211.6 860.2h0M239.0 860.2h0M266.5 860.2h0M293.9 860.2h0M321.4 860.2h0M348.8 860.2h0M376.2 860.2h0M403.7 860.2h0M486.0 860.2h0M513.4 860.2h0M540.9 860.2h0M569.0 860.2h0M59.5 880.1h0M88.1 880.1h0M115.6 880.1h0M143.0 880.1h0M170.4 880.1h0M197.9 880.1h0M225.3 880.1h0M252.8 880.1h0M280.2 880.1h0M307.6 880.1h0M335.1 880.1h0M362.5 880.1h0M390.0 880.1h0M417.4 880.1h0M444.8 880.1h0M472.3 880.1h0M499.7 880.1h0M527.2 880.1h0M554.6 880.1h0M584.2 880.1h0M45.1 900.1h0M74.4 900.1h0M101.8 900.1h0M129.3 900.1h0M156.7 900.1h0M184.2 900.1h0M211.6 900.1h0M239.0 900.1h0M266.5 900.1h0M293.9 900.1h0M321.4 900.1h0M348.8 900.1h0M376.2 900.1h0M403.7 900.1h0M431.1 900.1h0M458.6 900.1h0M486.0 900.1h0M513.4 900.1h0M540.9 900.1h0M569.0 900.1h0M59.5 920.1h0M88.1 920.1h0M115.6 920.1h0M143.0 920.1h0M170.4 920.1h0M197.9 920.1h0M225.3 920.1h0M252.8 920.1h0M280.2 920.1h0M307.6 920.1h0M335.1 920.1h0M362.5 920.1h0M390.0 920.1h0M417.4 920.1h0M444.8 920.1h0M472.3 920.1h0M554.6 920.1h0M584.2 920.1h0M45.1 940.1h0M74.4 940.1h0M101.8 940.1h0M129.3 940.1h0M156.7 940.1h0M184.2 940.1h0M211.6 940.1h0M239.0 940.1h0M266.5 940.1h0M293.9 940.1h0M321.4 940.1h0M348.8 940.1h0M376.2 940.1h0M403.7 940.1h0M431.1 940.1h0M458.6 940.1h0M569.0 940.1h0M59.5 960.1h0M88.1 960.1h0M115.6 960.1h0M143.0 960.1h0M170.4 960.1h0M197.9 960.1h0M225.3 960.1h0M252.8 960.1h0M280.2 960.1h0M307.6 960.1h0M335.1 960.1h0M362.5 960.1h0M390.0 960.1h0M417.4 960.1h0M444.8 960.1h0M472.3 960.1h0M584.2 960.1h0M74.4 980.0h0M101.8 980.0h0M129.3 980.0h0M156.7 980.0h0M184.2 980.0h0M211.6 980.0h0M239.0 980.0h0M266.5 980.0h0M293.9 980.0h0M321.4 980.0h0M348.8 980.0h0M376.2 980.0h0M403.7 980.0h0M431.1 980.0h0M458.6 980.0h0M486.0 980.0h0M513.4 980.0h0M88.1 1000.0h0M115.6 1000.0h0M143.0 1000.0h0M170.4 1000.0h0M197.9 1000.0h0M225.3 1000.0h0M252.8 1000.0h0M280.2 1000.0h0M307.6 1000.0h0M335.1 1000.0h0M362.5 1000.0h0M390.0 1000.0h0M417.4 1000.0h0M444.8 1000.0h0M472.3 1000.0h0M499.7 1000.0h0M584.2 1000.0h0M101.8 1020.0h0M129.3 1020.0h0M156.7 1020.0h0M184.2 1020.0h0M211.6 1020.0h0M239.0 1020.0h0M266.5 1020.0h0M293.9 1020.0h0M321.4 1020.0h0M348.8 1020.0h0M376.2 1020.0h0M403.7 1020.0h0M431.1 1020.0h0M458.6 1020.0h0M486.0 1020.0h0M513.4 1020.0h0M540.9 1020.0h0M569.0 1020.0h0M115.6 1040.0h0M143.0 1040.0h0M170.4 1040.0h0M197.9 1040.0h0M225.3 1040.0h0M252.8 1040.0h0M280.2 1040.0h0M307.6 1040.0h0M335.1 1040.0h0M362.5 1040.0h0M390.0 1040.0h0M417.4 1040.0h0M444.8 1040.0h0M472.3 1040.0h0M499.7 1040.0h0M527.2 1040.0h0M554.6 1040.0h0M584.2 1040.0h0M129.3 1060.0h0M156.7 1060.0h0M184.2 1060.0h0M211.6 1060.0h0M239.0 1060.0h0M266.5 1060.0h0M293.9 1060.0h0M321.4 1060.0h0M348.8 1060.0h0M376.2 1060.0h0M403.7 1060.0h0M431.1 1060.0h0M458.6 1060.0h0M486.0 1060.0h0M513.4 1060.0h0M540.9 1060.0h0M569.0 1060.0h0M143.0 1079.9h0M170.4 1079.9h0M197.9 1079.9h0M225.3 1079.9h0M252.8 1079.9h0M280.2 1079.9h0M307.6 1079.9h0M335.1 1079.9h0M362.5 1079.9h0M390.0 1079.9h0M417.4 1079.9h0M444.8 1079.9h0M472.3 1079.9h0M499.7 1079.9h0M527.2 1079.9h0M554.6 1079.9h0M584.2 1079.9h0M129.3 1099.9h0M156.7 1099.9h0M184.2 1099.9h0M211.6 1099.9h0M239.0 1099.9h0M266.5 1099.9h0M293.9 1099.9h0M321.4 1099.9h0M348.8 1099.9h0M376.2 1099.9h0M403.7 1099.9h0M431.1 1099.9h0M458.6 1099.9h0M486.0 1099.9h0M513.4 1099.9h0M540.9 1099.9h0M569.0 1099.9h0M143.0 1119.9h0M170.4 1119.9h0M197.9 1119.9h0M225.3 1119.9h0M252.8 1119.9h0M280.2 1119.9h0M307.6 1119.9h0M335.1 1119.9h0M362.5 1119.9h0M390.0 1119.9h0M417.4 1119.9h0M444.8 1119.9h0M472.3 1119.9h0M499.7 1119.9h0M527.2 1119.9h0M554.6 1119.9h0M584.2 1119.9h0M129.3 1142.7h0M156.7 1142.7h0M184.2 1142.7h0M211.6 1142.7h0M239.0 1142.7h0M266.5 1142.7h0M293.9 1142.7h0M321.4 1142.7h0M348.8 1142.7h0M376.2 1142.7h0M403.7 1142.7h0M431.1 1142.7h0M458.6 1142.7h0M486.0 1142.7h0M513.4 1142.7h0M540.9 1142.7h0M569.0 1142.7h0M143.0 1160.9h0M170.4 1160.9h0M197.9 1160.9h0M225.3 1160.9h0M252.8 1160.9h0M280.2 1160.9h0M307.6 1160.9h0M335.1 1160.9h0M362.5 1160.9h0M390.0 1160.9h0M417.4 1160.9h0M444.8 1160.9h0M472.3 1160.9h0M499.7 1160.9h0M527.2 1160.9h0M554.6 1160.9h0M584.2 1160.9h0" stroke="#000" stroke-width="3.9" stroke-linecap="round" fill="none"/>
<path d="M41.6 1160.9V1166.7M41.6 673.1V667.3M102.6 1160.9V1166.7M102.6 673.1V667.3M163.7 1160.9V1166.7M163.7 673.1V667.3M224.7 1160.9V1166.7M224.7 673.1V667.3M285.8 1160.9V1166.7M285.8 673.1V667.3M346.8 1160.9V1166.7M346.8 673.1V667.3M407.9 1160.9V1166.7M407.9 673.1V667.3M468.9 1160.9V1166.7M468.9 673.1V667.3M530.0 1160.9V1166.7M530.0 673.1V667.3M591.0 1160.9V1166.7M591.0 673.1V667.3M41.6 1160.9H35.8M591.0 1160.9H596.8M41.6 1116.6H35.8M591.0 1116.6H596.8M41.6 1072.2H35.8M591.0 1072.2H596.8M41.6 1027.9H35.8M591.0 1027.9H596.8M41.6 983.5H35.8M591.0 983.5H596.8M41.6 939.2H35.8M591.0 939.2H596.8M41.6 894.8H35.8M591.0 894.8H596.8M41.6 850.5H35.8M591.0 850.5H596.8M41.6 806.1H35.8M591.0 806.1H596.8M41.6 761.8H35.8M591.0 761.8H596.8M41.6 717.4H35.8M591.0 717.4H596.8M41.6 673.1H35.8M591.0 673.1H596.8" stroke="#1e1e1e" stroke-width="1.8" fill="none"/>
<rect x="41.6" y="673.1" width="549.4" height="487.8" fill="none" stroke="#1e1e1e" stroke-width="1.8"/>
<text x="41.6" y="1205.5" text-anchor="middle" font-family="'Liberation Sans', sans-serif" font-size="28" fill="#262626">0</text>
<text x="102.6" y="1205.5" text-anchor="middle" font-family="'Liberation Sans', sans-serif" font-size="28" fill="#262626">2</text>
<text x="163.7" y="1205.5" text-anchor="middle" font-family="'Liberation Sans', sans-serif" font-size="28" fill="#262626">4</text>
<text x="224.7" y="1205.5" text-anchor="middle" font-family="'Liberation Sans', sans-serif" font-size="28" fill="#262626">6</text>
<text x="285.8" y="1205.5" text-anchor="middle" font-family="'Liberation Sans', sans-serif" font-size="28" fill="#262626">8</text>
<text x="346.8" y="1205.5" text-anchor="middle" font-family="'Liberation Sans', sans-serif" font-size="28" fill="#262626">10</text>
<text x="407.9" y="1205.5" text-anchor="middle" font-family="'Liberation Sans', sans-serif" font-size="28" fill="#262626">12</text>
<text x="468.9" y="1205.5" text-anchor="middle" font-family="'Liberation Sans', sans-serif" font-size="28" fill="#262626">14</text>
<text x="530.0" y="1205.5" text-anchor="middle" font-family="'Liberation Sans', sans-serif" font-size="28" fill="#262626">16</text>
<text x="591.0" y="1205.5" text-anchor="middle" font-family="'Liberation Sans', sans-serif" font-size="28" fill="#262626">18</text>
<text x="25.7" y="1171.9" text-anchor="end" font-family="'Liberation Sans', sans-serif" font-size="28" fill="#262626">J</text>
<text x="25.7" y="1127.6" text-anchor="end" font-family="'Liberation Sans', sans-serif" font-size="28" fill="#262626">F</text>
<text x="25.7" y="1083.2" text-anchor="end" font-family="'Liberation Sans', sans-serif" font-size="28" fill="#262626">M</text>
<text x="25.7" y="1038.9" text-anchor="end" font-family="'Liberation Sans', sans-serif" font-size="28" fill="#262626">A</text>
<text x="25.7" y="994.5" text-anchor="end" font-family="'Liberation Sans', sans-serif" font-size="28" fill="#262626">M</text>
<text x="25.7" y="950.2" text-anchor="end" font-family="'Liberation Sans', sans-serif" font-size="28" fill="#262626">J</text>
<text x="25.7" y="905.8" text-anchor="end" font-family="'Liberation Sans', sans-serif" font-size="28" fill="#262626">J</text>
<text x="25.7" y="861.5" text-anchor="end" font-family="'Liberation Sans', sans-serif" font-size="28" fill="#262626">A</text>
<text x="25.7" y="817.1" text-anchor="end" font-family="'Liberation Sans', sans-serif" font-size="28" fill="#262626">S</text>
<text x="25.7" y="772.8" text-anchor="end" font-family="'Liberation Sans', sans-serif" font-size="28" fill="#262626">O</text>
<text x="25.7" y="728.4" text-anchor="end" font-family="'Liberation Sans', sans-serif" font-size="28" fill="#262626">N</text>
<text x="25.7" y="684.1" text-anchor="end" font-family="'Liberation Sans', sans-serif" font-size="28" fill="#262626">D</text>
<text x="316.3" y="1242.5" text-anchor="middle" font-family="'Liberation Sans', sans-serif" font-size="28" fill="#262626">Lag Months</text>
<rect x="701.2" y="673.1" width="549.7" height="487.8" fill="#1C4B9C"/>
<path d="M705 1154.1L708.8 1160.9L1250.9 1160.9L1250.9 673.1L701.2 673.1L701.2 1146.1Z" fill="#2155A6" fill-rule="evenodd"/>
<path d="M720.3 1132.9L724.1 1144.8L727.9 1153.8L731.7 1160.9L1250.9 1160.9L1250.9 673.1L701.2 673.1L701.2 1065.9L704.3 1072.2L705 1080.3L708.8 1101.8L712.7 1111.2L716.5 1116.6Z" fill="#2A64B0" fill-rule="evenodd"/>
<path d="M727.9 1118.3L731.7 1129.2L735.6 1143.7L739.4 1155.7L741.3 1160.9L1250.9 1160.9L1250.9 673.1L701.2 673.1L701.2 1050L705 1059.7L708.8 1067.3L711.9 1072.2L712.7 1075.8L716.5 1088.8L720.3 1100.1L724.1 1109.6L727.4 1116.6Z" fill="#3777BC" fill-rule="evenodd"/>
<path d="M739.4 1129.6L743.2 1141.7L747 1152L749.6 1160.9L1250.9 1160.9L1250.9 673.1L768.4 673.1L766.1 675.7L762.3 679.4L754.6 680.1L747 680.7L739.4 681.4L731.7 682L724.1 680.4L716.5 678.4L708.8 676.1L705 674.7L701.2 673.1L701.2 1034.2L705 1045.9L708.8 1055L712.7 1062.2L716.5 1068.2L719.5 1072.2L724.1 1086.2L727.9 1096L731.7 1104.5L735.9 1116.6Z" fill="#4389CA" fill-rule="evenodd"/>
<path d="M743.2 1117.8L747 1129.9L755.9 1160.9L1250.9 1160.9L1250.9 673.1L783.7 673.1L781.4 677.1L777.5 682.4L773.7 686.7L769.9 690.1L766.1 692.9L762.3 695.3L750.8 695.9L743.2 696.2L731.7 696.8L712.7 696L701.2 695.3L701.2 1022.1L703.7 1027.9L705 1032L708.8 1042.6L712.7 1051.1L716.5 1058.1L720.3 1063.8L724.1 1068.7L727.2 1072.2L727.9 1074.4L731.7 1084.3L735.6 1096.7L739.4 1107.7Z" fill="#5198D3" fill-rule="evenodd"/>
<path d="M750.8 1121L762.3 1160.9L1250.9 1160.9L1250.9 673.1L797.2 673.1L796.6 675.2L792.8 690.8L789 696.6L785.2 700.6L781.4 703.5L777.5 705.8L773.7 707.5L769.9 709L762.3 711.1L731.7 711.5L724.1 712.6L716.5 713.9L712.7 714.6L705 716.4L701.2 717.4L701.2 1012.4L705 1021.3L708 1027.9L708.8 1030.3L712.7 1040.1L716.5 1048L720.3 1054.5L724.1 1060L727.9 1064.9L731.7 1069.2L733.9 1072.2L735.6 1077.9L739.4 1089.9L743.2 1100.7L749.6 1116.6Z" fill="#63A6DC" fill-rule="evenodd"/>
<path d="M758.5 1125.4L768.6 1160.9L1250.9 1160.9L1250.9 673.1L808.1 673.1L800.5 700.5L796.5 717.4L792.8 720.7L769.9 721.6L762.3 721.9L731.7 721.9L724.1 722.6L716.5 723.4L708.8 724.1L701.2 724.8L701.2 1002.8L708.8 1020.5L712.7 1029L716.5 1037.9L720.3 1045.1L724.1 1051.3L727.9 1056.7L731.7 1061.5L739.4 1072.2L743.2 1083.9L747 1094.4L754.6 1113.5L755.9 1116.6Z" fill="#76B6E4" fill-rule="evenodd"/>
<path d="M766.1 1130.6L769.9 1144L773.7 1156.8L775 1160.9L1250.9 1160.9L1250.9 673.1L817.6 673.1L811.9 697.9L808.1 712.2L806.6 717.4L796.6 726L792.8 728.9L769.9 729.2L754.6 729.3L731.7 729.3L724.1 730L705 731.9L701.2 732.2L701.2 993.2L705 1002.4L708.8 1011.2L716.5 1027.9L720.3 1035.8L724.1 1042.6L727.9 1048.6L739.4 1064.8L744.8 1072.2L747 1078.5L754.6 1098.2L762.3 1116.6Z" fill="#88C4EB" fill-rule="evenodd"/>
<path d="M769.9 1122.9L773.7 1136.1L781.1 1160.9L1250.9 1160.9L1250.9 673.1L826.4 673.1L823.4 690.8L817.2 717.4L815.7 719.2L811.9 723.1L808.1 726.2L800.5 731.9L796.6 734.7L792.8 737.2L785.2 737L777.5 736.9L762.3 736.7L731.7 736.7L724.1 737.4L701.2 739.6L701.2 983.5L705 993L708.8 1002L716.5 1019L724.1 1034L727.9 1040.5L735.6 1051.9L743.2 1062.8L747 1067.9L750.5 1072.2L754.6 1082.9L762.3 1101.8L766.1 1111.5L768.2 1116.6Z" fill="#9DD2F2" fill-rule="evenodd"/>
<path d="M777.5 1128.6L781.4 1142.6L786.9 1160.9L1250.9 1160.9L1250.9 673.1L834 673.1L831 687.9L827.2 709.4L825.9 717.4L823.4 722.7L819.5 726.9L815.7 730.5L811.9 733.7L808.1 736.4L800.5 741.1L792.8 745.4L781.4 744.8L762.3 744.1L731.7 744.1L724.1 744.8L701.2 747L701.2 976.8L705 983.5L708.8 992.8L716.5 1010.1L720.3 1018L724.1 1025.4L727.9 1032.3L731.7 1038.6L743.2 1055.5L747 1060.8L750.8 1065.8L754.6 1070.3L756.4 1072.2L762.3 1087L766.1 1097.2L769.9 1106.9L774 1116.6Z" fill="#ADDCF5" fill-rule="evenodd"/>
<path d="M781.4 1123.3L785.2 1136.9L789 1149.4L792.8 1160.9L1250.9 1160.9L1250.9 673.1L841.2 673.1L834.8 703.8L832.3 717.4L831 720.5L827.2 728.7L823.4 735.7L819.5 739L815.7 741.9L811.9 744.4L808.1 746.6L800.5 750.3L792.8 753.6L781.4 752.7L773.7 752.2L762.3 751.4L731.7 751.4L720.3 752.6L712.7 753.3L701.2 754.4L701.2 970.1L705 976.5L708.8 983.5L716.5 1001.3L720.3 1009.4L724.1 1017L729.9 1027.9L731.7 1030.9L739.4 1042.6L747 1053.6L750.8 1059L754.6 1063.9L762.3 1072.2L766.1 1082.9L769.9 1093L773.7 1102.4L777.5 1111.3L779.6 1116.6Z" fill="#BDE4F8" fill-rule="evenodd"/>
<path d="M785.2 1118.4L789 1131.6L792.8 1143.8L796.6 1156.8L797.9 1160.9L1250.9 1160.9L1250.9 673.1L847.5 673.1L842.4 696L838.6 717.4L834.8 727.5L831 735.8L827.2 742.8L823.4 748.7L819.5 751.2L815.7 753.3L811.9 755.1L804.3 758.2L800.5 759.5L792.8 761.8L777.5 760.2L762.3 758.8L731.7 758.8L724.1 759.6L716.5 760.3L708.8 761.1L701.2 761.8L701.2 963.4L705 969.4L708.8 976.1L712.7 983.5L716.5 992.4L720.3 1000.7L724.1 1008.6L731.7 1022.7L734.6 1027.9L739.4 1035.3L750.8 1052.2L754.6 1057.4L758.5 1061.8L762.3 1065.9L767.4 1072.2L769.9 1079.1L773.7 1089L777.5 1098.3L781.4 1109.1L784.7 1116.6Z" fill="#CBEBFB" fill-rule="evenodd"/>
<path d="M792.8 1126.8L796.6 1140.4L803 1160.9L1250.9 1160.9L1250.9 673.1L853.9 673.1L850.1 687.5L846.3 704.4L843.7 717.4L842.4 722.9L838.6 735.9L834.8 744.2L831 751.1L827.2 756.9L823.4 761.8L815.7 765.1L808.1 767.6L800.5 769.7L792.8 771.4L777.5 769.9L769.9 769L762.3 768.1L754.6 768.8L747 769.6L739.4 770.7L731.7 772L724.1 774.5L716.5 777.2L712.7 778.7L705 782.1L701.2 784L701.2 956.6L705 962.4L708.8 968.7L712.7 975.5L716.5 983.5L720.3 992.1L724.1 1000.3L731.7 1014.2L735.6 1020.7L739.4 1027.9L747 1039.3L750.8 1045.5L754.6 1051L758.5 1055.5L762.3 1059.5L766.1 1063.7L769.9 1068.5L772.5 1072.2L773.7 1075.6L777.5 1085.3L781.4 1097.5L785.2 1107.3L789.8 1116.6Z" fill="#D7F1FC" fill-rule="evenodd"/>
<path d="M796.6 1123.9L800.5 1137.1L804.3 1149.4L808.1 1160.9L1250.9 1160.9L1250.9 673.1L858.4 673.1L857.7 677.1L853.9 695.3L848.8 717.4L846.3 730.5L842.4 744.5L838.6 754.4L834.3 761.8L831 767L827.2 772.2L823.4 776.6L815.7 778.1L808.1 779.3L800.5 780.3L792.8 781.1L762.3 778.7L758.5 779.5L750.8 781.5L743.2 784L739.4 785.4L735.6 787.1L731.7 789.1L724.1 792.6L716.5 796.5L708.8 801L701.2 806.1L701.2 949.9L705 955.4L712.7 967.4L716.5 974.6L720.3 983.5L724.1 991.9L731.7 1005.7L735.6 1011.8L739.4 1018.6L743.2 1025.9L744.1 1027.9L747 1032.2L750.8 1038.7L754.6 1044.6L758.5 1049.2L762.3 1053.2L766.1 1056.9L769.9 1061.1L773.7 1066.2L777.5 1072.2L781.4 1086L785.2 1097L792.8 1112.5L794.6 1116.6Z" fill="#E3F5FD" fill-rule="evenodd"/>
<path d="M800.5 1121.3L804.3 1134.1L808.1 1146.1L814 1160.9L1250.9 1160.9L1250.9 673.1L862.9 673.1L861.5 683.3L857.7 704L853.9 717.4L850.1 742.1L846.3 756.6L844.4 761.8L842.4 766.7L838.6 774.5L834.8 779.9L831 784.4L827.2 788.2L823.4 791.4L815.7 791.1L800.5 790.8L792.8 790.7L773.7 789.8L762.3 789.2L754.6 792.1L750.8 793.8L747 795.7L743.2 797.8L739.4 800.2L735.6 803L731.7 806.1L712.7 816.8L708.8 818.9L701.2 823.2L701.2 943.2L705 948.3L708.8 954L712.7 959.3L716.5 965.8L720.3 972.8L724.1 983.5L731.7 997.2L735.6 1002.9L743.2 1015.8L747 1023.4L748.5 1027.9L750.8 1031.9L754.6 1038.1L758.5 1042.9L762.3 1046.9L766.1 1050L769.9 1053.7L773.7 1058.1L777.5 1063.3L780.7 1072.2L785.2 1086.6L792.8 1102.4L796.6 1110.1L799.1 1116.6Z" fill="#EBF8FD" fill-rule="evenodd"/>
<path d="M804.3 1118.8L808.1 1131.3L811.9 1140.8L815.7 1149.9L819.8 1160.9L1250.9 1160.9L1250.9 673.1L867.4 673.1L865.3 694.1L861.5 717.4L857.7 743.5L853.9 761.8L850.1 775.7L846.3 784.7L842.4 790.9L838.6 795.6L834.8 799L831 801.8L827.2 804.1L823.4 806.1L815.7 804.2L808.1 802.6L796.6 800.8L792.8 800.4L785.2 800.2L777.5 800.1L769.9 799.9L762.3 799.8L758.5 801.7L754.6 803.8L750.8 806.1L747 810.6L743.2 814.4L739.4 817.7L735.6 820.6L731.7 823.2L712.7 833.9L701.2 840.2L701.2 930.3L703.4 939.2L708.8 946.6L712.7 951.3L716.5 956.9L720.3 962.1L724.1 970.1L727.9 980.2L728.9 983.5L731.7 988.6L735.6 994L743.2 1005.8L747 1012.3L750.8 1022.3L752.4 1027.9L754.6 1031.7L758.5 1036.5L762.3 1040.5L766.1 1043.2L769.9 1046.3L773.7 1050L777.5 1054.5L781.4 1063.7L783.9 1072.2L785.2 1076.3L792.8 1092.4L796.6 1098.5L800.5 1106.9Z" fill="#F3FBFE" fill-rule="evenodd"/>
<path d="M811.9 1125.9L815.7 1134.3L819.5 1142.4L823.4 1152.8L826.8 1160.9L1250.9 1160.9L1250.9 673.1L872 673.1L869.2 717.4L865.3 757.8L864.8 761.8L861.5 780.8L857.7 795.7L853.9 806.1L850.1 809.3L846.3 812.1L842.4 814.6L838.6 816.7L834.8 818.6L831 820.3L823.4 823.2L811.9 821.1L804.3 819.3L796.6 817.2L792.8 816L777.5 817.2L762.3 818.8L758.5 823.3L754.6 827L750.8 830.1L747 832.7L743.2 835L739.4 837L735.6 838.7L731.7 840.2L713.4 850.5L712.7 851.9L708.8 858.3L705 863.7L701.2 868.2L701.2 908.1L705 916.2L708.8 939.2L712.7 943.2L716.5 948L720.3 951.5L724.1 956.6L727.9 963.4L731.7 974.6L734.4 983.5L735.6 985.1L739.4 990.7L743.2 995.8L747 1001.3L750.8 1008.5L754.6 1020.5L756.6 1027.9L758.5 1030.2L762.3 1034.2L766.1 1036.4L769.9 1039L773.7 1042L777.5 1045.6L781.4 1053L788 1072.2L792.8 1082.3L796.6 1086.8L800.5 1093L804.3 1102.1L808.1 1116.6Z" fill="#FBFEFF" fill-rule="evenodd"/>
<path d="M815.7 1118.6L819.5 1124.8L827.2 1140.2L831 1148.8L834.8 1158.7L835.5 1160.9L1250.9 1160.9L1250.9 673.1L876.8 673.1L878.7 717.4L878.3 761.8L876.8 776.6L873 806.1L869.2 817.2L865.3 823.9L861.5 828.3L857.7 831.5L853.9 833.9L850.1 835.1L846.3 836.1L838.6 837.8L831 839.2L823.4 840.2L792.8 840.6L785.2 842.7L777.5 844.9L769.9 847.5L762.3 850.5L739.4 883.7L735.6 889.3L731.7 894.8L727.9 899.3L724.1 905.9L720.3 917L716.5 939.2L720.3 940.8L724.1 943.2L727.9 946.7L731.7 952.5L735.6 960.4L739.4 974.4L741.3 983.5L750.8 994.6L754.6 1002L758.5 1012.7L762.3 1027.9L766.1 1029.6L769.9 1031.6L773.7 1033.9L777.5 1036.7L781.4 1042.3L785.2 1050.7L789 1059.8L792.8 1072.2L796.6 1075.1L800.5 1079.1L804.3 1085L808.1 1094.4L811.9 1106.9L814.7 1116.6Z" fill="#FFFDED" fill-rule="evenodd"/>
<path d="M827.2 1118.7L831 1125.8L834.8 1133.9L842.4 1154.8L844.4 1160.9L1250.9 1160.9L1250.9 673.1L884.4 673.1L888.3 750.7L889 761.8L888.3 791.4L887.8 806.1L888.3 813L892.1 840.2L895.9 849.3L896.6 850.5L899.7 861.6L903.5 870.4L907.3 876.4L911.2 880.6L915 883.7L918.8 890.6L922.6 894.8L918.8 912.6L915 917L911.2 913L907.3 910.7L903.5 909.2L899.7 908.1L892.1 906.8L884.4 905.9L873 901.4L869.2 900L853.9 894.8L850.1 889.9L846.3 886L842.4 882.7L838.6 880L834.8 877.8L831 875.8L827.2 874.1L823.4 872.7L819.5 874L796.6 882.4L792.8 883.7L789 888.9L785.2 894.8L781.4 899.5L777.5 903.7L773.7 907.5L769.9 911L766.1 914.1L758.5 919.9L754.6 923L750.8 926.5L747 930.3L743.2 936.7L741.9 939.2L743.2 941.9L750.8 965.8L754.6 983.5L758.5 988.4L762.3 996.2L766.1 1002.3L769.9 1009.4L773.7 1017.8L777.5 1027.9L781.4 1031.6L785.2 1037.3L789 1044.2L792.8 1053.7L796.6 1057.7L800.5 1062.1L804.3 1066.9L808.1 1072.2L811.9 1081.2L815.7 1092L819.5 1101.6L823.4 1111L825.9 1116.6ZM930.2 939.2L934.1 932.8L937.9 930.3L941.7 928.9L945.5 928.1L949.3 934.5L953.1 939.2L949.3 942.5L945.5 945.5L937.9 942.2Z" fill="#FFF8E2" fill-rule="evenodd"/>
<path d="M838.6 1116.6L842.4 1124.2L846.3 1133.6L850.1 1145.5L853.9 1160.9L1250.9 1160.9L1250.9 673.1L890.3 673.1L892.1 717.4L895.9 756.2L896.6 761.8L896.3 806.1L899.7 819.8L903.5 830L907.3 836.4L911.2 840.9L915 844.1L919.3 850.5L922.6 860.7L926.4 869.1L930.2 875.1L934.1 880L937.9 883.7L941.7 886.6L945.5 888.9L949.3 892.8L951.6 894.8L953.1 898.9L957 907.2L960.8 913.8L964.6 922.7L971 939.2L968.4 951.8L964.6 962.5L960.8 968.7L957 971.1L953.1 973.3L945.5 977.2L934.1 970.7L922.6 964.9L915 961.3L899.7 947.5L890.5 939.2L888.3 936.9L884.4 933.6L873 927.9L869.2 926.1L857.7 921.1L853.9 919.5L842.4 917.7L834.8 916.3L827.2 914.7L823.4 913.8L819.5 915.7L815.7 917.9L811.9 920.3L808.1 923L804.3 926.2L800.5 929.8L796.6 934.1L792.8 939.2L789 945.5L785.2 954L781.4 965.8L777.5 983.5L781.4 989.4L785.2 1001.3L788.5 1027.9L789 1028.6L792.8 1035.3L796.6 1038.5L800.5 1042L804.3 1045.8L808.1 1050L811.9 1056.2L815.7 1063.9L823.4 1083.3L827.2 1090.8L831 1098.8L834.8 1107.4Z" fill="#FFF3D0" fill-rule="evenodd"/>
<path d="M857.7 1129.6L861.5 1148.2L863.4 1160.9L1250.9 1160.9L1250.9 673.1L896.2 673.1L897.5 717.4L899.7 735.2L903.2 761.8L903.5 776.6L904.3 806.1L907.3 814.8L911.2 822.6L915 828.3L918.8 834.7L922.6 840.5L926.4 845.7L930.2 850.5L934.1 858.9L937.9 865.3L941.7 870.2L945.5 874.1L949.3 879.1L953.1 883.4L957 887.1L960.8 890.4L966.9 894.8L972.2 907.2L979.9 927.2L983.7 936L985.2 939.2L982.2 983.5L979.9 988.4L976 994.6L968.4 995.2L957 995.8L945.5 996.2L926.4 990.2L918.8 987.9L915 986.7L908.9 983.5L899.7 975.2L884.4 961.3L876.8 958.4L873 956.8L865.3 953.1L861.5 951.1L853.9 946.6L850.1 947.6L846.3 949L842.4 951L834.8 956.9L831 961.3L827.2 968.7L823.4 983.5L819.5 991.6L815.7 1001.3L811.9 1013.1L808.1 1027.9L811.9 1031.6L815.7 1036.2L819.5 1042.1L823.4 1050L827.2 1057.4L831 1067.3L832.5 1072.2L834.8 1076.8L842.4 1092.8L850.1 1108.6L853.9 1116.6Z" fill="#FFEDBE" fill-rule="evenodd"/>
<path d="M873 1153.5L873.5 1160.9L1250.9 1160.9L1250.9 673.1L902.8 673.1L904.3 717.4L907.3 742.8L909.1 761.8L911.2 796.3L911.9 806.1L915 812.5L918.8 819.7L922.6 826.2L926.4 832.1L934.1 842.9L939.8 850.5L941.7 853.8L945.5 859.4L949.3 865.5L953.1 870.8L957 875.3L960.8 879.3L964.6 882.7L968.4 885.8L972.2 888.6L976 891.1L980.4 894.8L983.7 904.3L987.5 914L991.3 922.5L995.1 928.1L999 932.5L1002.8 936.1L1006.6 939.2L1002.8 958.2L999 983.5L995.1 1000.4L991.3 1008.9L987.5 1014.7L983.7 1018.2L979.9 1020.6L976 1022.3L972.2 1020.3L968.4 1018.5L964.6 1017L957 1014.7L949.3 1012.8L945.5 1012L918.8 1003.7L915 1002.5L907.3 999.4L899.7 995.9L892.1 992L888.3 989.9L884.4 987.5L880.6 987.4L869.2 986.5L861.5 985.6L857.7 984.9L853.9 983.5L846.3 1005.7L838.6 1027.9L842.4 1041.2L846.3 1061.1L847.8 1072.2L853.9 1084.9L857.7 1091.9L861.5 1099.5L865.3 1107.7L869.2 1116.6Z" fill="#FEE3A3" fill-rule="evenodd"/>
<path d="M888.3 1160.9L1250.9 1160.9L1250.9 673.1L910.4 673.1L911.9 717.4L915 761.8L919.6 806.1L922.6 811.9L926.4 818.4L930.2 824.4L937.9 835.7L941.7 840.9L945.5 845.8L948.6 850.5L949.3 851.8L953.1 858.1L957 863.5L960.8 868.2L964.6 872.1L968.4 875.7L972.2 878.9L976 881.9L987.5 891.7L991.3 894.8L995.1 903.4L999 910.3L1002.8 916L1006.6 920.7L1010.4 925.9L1014.2 930.6L1018 935.1L1021.9 939.2L1018 983.5L1021.9 1027.9L1018 1044.5L1014.2 1050L1010.4 1052.8L1006.6 1054.5L1002.8 1053.6L995.1 1052.3L987.5 1051.2L976 1050L945.5 1027.9L918.8 1019.5L907.3 1016.1L899.7 1013.7L892.1 1010.9L884.4 1007.7L880.6 1009.2L876.8 1011.1L873 1013.3L869.2 1016L865.3 1020.9L861.5 1027.9L865.3 1072.2L869.2 1079.6L873 1087.6L876.8 1096.4L880.6 1106L884.4 1116.6L884.4 1160.9ZM1037.1 1072.2L1040.9 1062.7L1044.8 1058.9L1048.6 1056.9L1052.4 1055.6L1063.8 1068.1L1067.7 1072.2L1063.8 1080.5L1060 1085.5L1056.2 1088.8L1052.4 1091.2L1048.6 1087.6L1044.8 1083.3L1040.9 1078.3Z" fill="#FED98C" fill-rule="evenodd"/>
<path d="M903.5 1160.9L1067.7 1160.9L1063.8 1153.1L1060 1146.1L1056.2 1139.9L1052.4 1134.3L1048.6 1129.2L1044.8 1124.6L1040.9 1120.4L1037.1 1116.6L1025.7 1113L1018 1110.2L1010.4 1107.1L1006.6 1105.5L1002.8 1101.8L999 1098.3L991.3 1091.9L983.7 1086.2L979.9 1083.6L976 1081.1L972.2 1076.9L968.4 1072.2L945.5 1055.6L937.9 1052.2L930.2 1048.6L922.6 1044.7L915 1040.5L907.3 1040L899.7 1039L888.3 1039L884.4 1072.2L888.3 1079.6L892.1 1088.8L895.9 1100.7L899.7 1116.6L899.7 1160.9ZM1113.5 1138.7L1116.5 1160.9L1250.9 1160.9L1250.9 673.1L919.3 673.1L920.7 717.4L922.6 761.8L927.2 806.1L930.2 811.4L937.9 823.4L941.7 828.9L949.3 839.4L953.1 845.3L957 851.7L960.8 857.1L964.6 861.6L968.4 865.6L972.2 869.3L991.3 886L999 892.1L1002.2 894.8L1006.6 902.2L1010.4 908.1L1014.2 913.6L1018 918.6L1021.9 923.3L1032.8 939.2L1033.3 948L1037.1 983.5L1052.4 1027.9L1067.7 1044.5L1071.5 1047.4L1075.3 1050.9L1079.1 1055L1082.9 1060.1L1086.8 1066.5L1089.5 1072.2L1090.6 1075.6L1094.4 1086L1098.2 1094.4L1102 1100.3L1105.8 1107.1L1109.7 1114.8L1110.4 1116.6ZM1202 1027.9L1201.3 1019L1197.5 1008.9L1193.6 1006.7L1189.8 1005.7L1186 1000.7L1182.2 995.3L1178.4 989.6L1174.6 983.5L1178.4 978.1L1182.2 974.2L1186 971.1L1189.8 968.7L1197.5 975.8L1205.1 983.5L1208.9 997.2L1212.7 999.6L1216.5 1000.7L1220.4 1001.3L1238.7 1027.9L1235.6 1034.2L1231.8 1039.3L1228 1042.6L1224.2 1045.1L1220.4 1046.9L1216.5 1043.2L1212.7 1039.4Z" fill="#FECB79" fill-rule="evenodd"/>
<path d="M918.8 1160.9L1006.6 1160.9L976 1127.6L972.2 1125.4L968.4 1122.9L964.6 1120L960.8 1116.6L957 1113.6L953.1 1110.2L949.3 1106.3L945.5 1101.8L918.8 1101.8L915 1116.6L915 1160.9ZM1144 1138.7L1147.1 1160.9L1250.9 1160.9L1250.9 1146.1L1247.1 1141.4L1243.3 1137L1235.6 1129.2L1231.8 1125.7L1224.2 1119.4L1220.4 1116.6L1216.5 1089.9L1212.7 1072.2L1208.9 1068.9L1201.3 1061.8L1193.6 1054.1L1189.8 1050L1186 1047.7L1174.6 1040L1166.9 1034.2L1159.3 1027.9L1155.5 1022.3L1151.6 1016.8L1132.6 989.1L1128.7 983.5L1124.9 974L1121.1 961.3L1117.3 943.6L1116.5 939.2L1121.1 933.4L1124.9 929.6L1128.7 926.5L1144 928.1L1159.3 929.3L1174.6 931.3L1182.2 932.5L1189.8 933.6L1193.6 935.5L1197.5 937.6L1200 939.2L1205.1 943.2L1212.7 949.7L1220.4 956.9L1224.2 960.1L1228 964.1L1231.8 969.3L1235.6 976.1L1238.7 983.5L1250.9 1001.3L1250.9 673.1L1159.3 673.1L1159.3 717.4L1159.3 673.1L930.2 673.1L930.2 761.8L934.1 797.3L934.8 806.1L937.9 811.1L945.5 822.5L949.3 827.1L953.1 832.2L957 838L964.2 850.5L968.4 855.5L972.2 859.6L976 863.4L987.5 873.8L991.3 877.1L1002.8 886.1L1010.4 892.4L1013.1 894.8L1018 902.2L1021.9 907.5L1037.1 929.7L1040.9 934.1L1044.8 939.2L1048.6 954.8L1052.4 965.8L1056.2 971.4L1060 976.1L1063.8 980.1L1067.7 983.5L1071.5 991.3L1075.3 998.3L1079.1 1004.5L1082.9 1010.1L1086.8 1015.2L1090.6 1019.8L1094.4 1024L1098.2 1027.9L1105.8 1039L1113.5 1050L1128.7 1072.2L1141 1116.6Z" fill="#FDBF65" fill-rule="evenodd"/>
<path d="M1182.2 1127.6L1189.8 1160.9L1235.6 1160.9L1231.8 1156.3L1228 1152L1224.2 1148L1220.4 1144.3L1216.5 1144L1208.9 1142.9L1205.1 1141.9L1201.3 1139.9L1197.5 1134.3L1194.9 1116.6L1193.6 1112.5L1189.8 1101.8L1186 1104.9L1182.2 1110.2L1179.6 1116.6ZM1063.8 946L1067.7 951.8L1075.3 950.7L1079.1 950L1082.9 949L1086.8 942.5L1088 939.2L1090.6 921.4L1094.4 905.1L1098.2 894.8L1128.7 894.8L1132.6 896.4L1140.2 899.1L1144 900.4L1151.6 902.7L1159.3 904.7L1189.8 905.9L1201.3 907.7L1208.9 909.3L1216.5 911.3L1220.4 912.6L1250.9 921.4L1250.9 673.1L1220.4 673.1L1224.2 687.9L1228 717.4L1229.1 761.8L1228 763.6L1224.2 768.4L1220.4 771.6L1208.9 771.3L1201.3 771L1189.8 770.7L1182.2 769.4L1174.6 767.7L1170.7 766.6L1166.9 765.3L1163.1 763.8L1159.3 761.8L1151.6 757.1L1147.8 754.6L1140.2 749.1L1132.6 743L1128.7 739.6L1121.1 736.5L1117.3 734.5L1113.5 732.2L1109.7 729.5L1105.8 726.3L1102 722.4L1098.2 717.4L1098.2 673.1L1037.1 673.1L1037.1 717.4L1037.1 673.1L945.5 673.1L941.7 710.1L941.1 717.4L939.8 761.8L941.7 791.4L942.5 806.1L945.5 810.8L949.3 814.8L953.1 819.2L957 824.2L960.8 829.8L964.6 836L968.4 842.6L972.7 850.5L976 854.2L991.3 868.2L999 874L1006.6 880L1010.4 882.5L1014.2 885.3L1018 888.6L1021.9 892.4L1024 894.8L1037.1 913.8L1040.9 917L1044.8 920.7L1048.6 925.1L1052.4 930.3L1056.2 933.5L1060 939.2Z" fill="#FDB153" fill-rule="evenodd"/>
<path d="M1037.1 898L1040.9 899.9L1044.8 902.2L1048.6 904.9L1052.4 908.1L1056.2 904.8L1060 898.9L1061.6 894.8L1062.6 850.5L1063.8 837.8L1067.7 806.1L1063.8 787.7L1060 778.4L1056.2 772.9L1052.4 769.2L1048.6 766.5L1044.8 764.6L1040.9 763L1037.1 761.8L1021.9 748.5L1018 745.2L1006.6 735.2L1002.8 732.2L999 729.5L991.3 724.8L983.7 720.9L979.9 719.1L976 717.4L972.2 720.1L968.4 723.2L964.6 727.2L960.8 732.2L957 740.4L953.1 753.7L951.6 761.8L953.1 806.1L957 810.3L960.8 815L964.6 820.7L968.4 826.7L972.2 833.2L976 840.2L979.9 846.5L981.8 850.5L991.3 859.4L999 865L1006.6 870.8L1010.4 872.7L1014.2 874.8L1018 877.2L1021.9 880L1025.7 881.8L1029.5 884.7L1033.3 890.4L1034.9 894.8ZM1102 852.6L1105.8 854.5L1109.7 856.3L1117.3 859.4L1124.9 862L1128.7 863.2L1136.4 861.6L1140.2 860.6L1144 859.4L1147.8 857.9L1151.6 856L1155.5 853.6L1159.3 850.5L1159.3 806.1L1140.2 795.1L1132.6 790.6L1128.7 788.4L1098.2 788.4L1090.6 789.5L1086.8 790.3L1082.9 791.4L1079.1 792.8L1075.3 795.1L1071.5 798.7L1067.7 806.1L1071.5 816L1075.3 823.9L1079.1 830.3L1082.9 835.7L1086.8 840.2L1090.6 844.1L1094.4 847.5L1098.2 850.5ZM1163.1 855.4L1166.9 859.4L1170.7 862.6L1174.6 865.3L1178.4 867.5L1182.2 869.5L1186 871.2L1189.8 872.7L1201.3 871.2L1216.5 868.9L1220.4 868.2L1224.2 865.7L1228 862.3L1231.8 857.6L1235.6 850.5L1232.6 806.1L1231.8 804.9L1228 800.6L1224.2 798L1220.4 796.3L1212.7 795.3L1205.1 794.5L1197.5 793.6L1189.8 792.8L1182.2 794.7L1178.4 795.9L1174.6 797.3L1170.7 798.9L1166.9 800.8L1163.1 803.2L1159.3 806.1L1159.3 850.5Z" fill="#FCA142" fill-rule="evenodd"/>
<path d="M995.1 853.2L999 855.9L1006.6 861.6L1010.4 862.8L1014.2 864.2L1018 865.8L1021.9 867.7L1025.7 866.5L1029.5 864.6L1033.3 860.8L1037.1 850.5L1037.1 806.1L1033.3 799.9L1029.5 794.6L1025.7 789.8L1021.9 785.7L1018 781.9L1014.2 778.6L1010.4 775.6L1006.6 772.9L1002.8 770.8L999 768.4L995.1 765.4L987.5 758.2L979.9 751.9L976 749.1L972.2 754.8L968.4 761.8L965.1 806.1L968.4 810.9L972.2 816.8L976 823.2L979.9 826.6L983.7 831.3L987.5 838.5L991.3 850.5Z" fill="#F99139" fill-rule="evenodd"/>
<path d="M1006.6 852.3L1014.2 853.6L1021.9 855.4L1025.7 851.2L1026.2 850.5L1025.7 846.8L1021.9 828.3L1018 824.6L1014.2 817.2L1011.7 806.1L1006.6 800.6L999 801.2L991.3 802.1L987.5 802.7L983.7 803.5L979.9 804.6L976.1 806.1L979.9 806.6L983.7 807.3L987.5 808.4L991.3 810.2L995.1 812.9L999 818.2L1002.8 834.4L1004 850.5Z" fill="#F6802D" fill-rule="evenodd"/>
<path d="M912.4 678.0h0M939.8 678.0h0M967.2 678.0h0M994.7 678.0h0M1022.1 678.0h0M1049.6 678.0h0M1077.0 678.0h0M1104.4 678.0h0M1131.9 678.0h0M1159.3 678.0h0M1186.8 678.0h0M1214.2 678.0h0M1243.8 678.0h0M926.1 698.3h0M953.5 698.3h0M981.0 698.3h0M1008.4 698.3h0M1035.8 698.3h0M1063.3 698.3h0M1090.7 698.3h0M1118.2 698.3h0M1145.6 698.3h0M1173.0 698.3h0M1200.5 698.3h0M1228.6 698.3h0M912.4 720.3h0M939.8 720.3h0M967.2 720.3h0M994.7 720.3h0M1022.1 720.3h0M1049.6 720.3h0M1077.0 720.3h0M1104.4 720.3h0M1131.9 720.3h0M1159.3 720.3h0M1186.8 720.3h0M1214.2 720.3h0M1243.8 720.3h0M926.1 740.3h0M953.5 740.3h0M981.0 740.3h0M1008.4 740.3h0M1035.8 740.3h0M1063.3 740.3h0M1090.7 740.3h0M1118.2 740.3h0M1145.6 740.3h0M1173.0 740.3h0M1200.5 740.3h0M1228.6 740.3h0M939.8 760.3h0M967.2 760.3h0M994.7 760.3h0M1022.1 760.3h0M1049.6 760.3h0M1077.0 760.3h0M1104.4 760.3h0M1131.9 760.3h0M1159.3 760.3h0M1186.8 760.3h0M1214.2 760.3h0M1243.8 760.3h0M953.5 780.2h0M981.0 780.2h0M1008.4 780.2h0M1035.8 780.2h0M1063.3 780.2h0M1090.7 780.2h0M1118.2 780.2h0M1145.6 780.2h0M1173.0 780.2h0M1200.5 780.2h0M1228.6 780.2h0M939.8 800.2h0M967.2 800.2h0M994.7 800.2h0M1022.1 800.2h0M1049.6 800.2h0M1077.0 800.2h0M1104.4 800.2h0M1131.9 800.2h0M1159.3 800.2h0M1186.8 800.2h0M1214.2 800.2h0M1243.8 800.2h0M953.5 820.2h0M981.0 820.2h0M1008.4 820.2h0M1035.8 820.2h0M1063.3 820.2h0M1090.7 820.2h0M1118.2 820.2h0M1145.6 820.2h0M1173.0 820.2h0M1200.5 820.2h0M1228.6 820.2h0M967.2 840.2h0M994.7 840.2h0M1022.1 840.2h0M1049.6 840.2h0M1077.0 840.2h0M1104.4 840.2h0M1131.9 840.2h0M1159.3 840.2h0M1186.8 840.2h0M1214.2 840.2h0M1243.8 840.2h0M981.0 860.2h0M1008.4 860.2h0M1035.8 860.2h0M1063.3 860.2h0M1090.7 860.2h0M1118.2 860.2h0M1145.6 860.2h0M1173.0 860.2h0M1200.5 860.2h0M1228.6 860.2h0M994.7 880.1h0M1022.1 880.1h0M1049.6 880.1h0M1077.0 880.1h0M1104.4 880.1h0M1131.9 880.1h0M1159.3 880.1h0M1186.8 880.1h0M1214.2 880.1h0M1243.8 880.1h0M1008.4 900.1h0M1035.8 900.1h0M1063.3 900.1h0M1090.7 900.1h0M1118.2 900.1h0M1145.6 900.1h0M1173.0 900.1h0M1200.5 900.1h0M1228.6 900.1h0M1022.1 920.1h0M1049.6 920.1h0M1077.0 920.1h0M1104.4 920.1h0M1131.9 920.1h0M1159.3 920.1h0M1186.8 920.1h0M1214.2 920.1h0M1243.8 920.1h0M1035.8 940.1h0M1063.3 940.1h0M1090.7 940.1h0M1118.2 940.1h0M1145.6 940.1h0M1173.0 940.1h0M1200.5 940.1h0M1228.6 940.1h0M1049.6 960.1h0M1077.0 960.1h0M1104.4 960.1h0M1131.9 960.1h0M1159.3 960.1h0M1186.8 960.1h0M1214.2 960.1h0M1243.8 960.1h0M1063.3 980.0h0M1090.7 980.0h0M1118.2 980.0h0M1145.6 980.0h0M1173.0 980.0h0M1200.5 980.0h0M1228.6 980.0h0M1077.0 1000.0h0M1104.4 1000.0h0M1131.9 1000.0h0M1159.3 1000.0h0M1186.8 1000.0h0M1214.2 1000.0h0M1243.8 1000.0h0M898.6 1020.0h0M926.1 1020.0h0M953.5 1020.0h0M1063.3 1020.0h0M1090.7 1020.0h0M1118.2 1020.0h0M1145.6 1020.0h0M1173.0 1020.0h0M1200.5 1020.0h0M1228.6 1020.0h0M884.9 1040.0h0M912.4 1040.0h0M939.8 1040.0h0M1077.0 1040.0h0M1104.4 1040.0h0M1131.9 1040.0h0M1159.3 1040.0h0M1186.8 1040.0h0M1214.2 1040.0h0M1243.8 1040.0h0M843.8 1060.0h0M871.2 1060.0h0M898.6 1060.0h0M926.1 1060.0h0M953.5 1060.0h0M981.0 1060.0h0M1008.4 1060.0h0M1090.7 1060.0h0M1118.2 1060.0h0M1145.6 1060.0h0M1173.0 1060.0h0M1200.5 1060.0h0M1228.6 1060.0h0M857.5 1079.9h0M884.9 1079.9h0M912.4 1079.9h0M939.8 1079.9h0M967.2 1079.9h0M994.7 1079.9h0M1022.1 1079.9h0M1104.4 1079.9h0M1131.9 1079.9h0M1159.3 1079.9h0M1186.8 1079.9h0M1214.2 1079.9h0M1243.8 1079.9h0M871.2 1099.9h0M898.6 1099.9h0M926.1 1099.9h0M953.5 1099.9h0M981.0 1099.9h0M1008.4 1099.9h0M1035.8 1099.9h0M1090.7 1099.9h0M1118.2 1099.9h0M1145.6 1099.9h0M1173.0 1099.9h0M1200.5 1099.9h0M1228.6 1099.9h0M884.9 1119.9h0M912.4 1119.9h0M939.8 1119.9h0M967.2 1119.9h0M994.7 1119.9h0M1022.1 1119.9h0M1049.6 1119.9h0M1104.4 1119.9h0M1131.9 1119.9h0M1159.3 1119.9h0M1186.8 1119.9h0M1214.2 1119.9h0M1243.8 1119.9h0M871.2 1142.7h0M898.6 1142.7h0M926.1 1142.7h0M953.5 1142.7h0M981.0 1142.7h0M1008.4 1142.7h0M1035.8 1142.7h0M1063.3 1142.7h0M1090.7 1142.7h0M1118.2 1142.7h0M1145.6 1142.7h0M1173.0 1142.7h0M1200.5 1142.7h0M1228.6 1142.7h0M884.9 1160.9h0M912.4 1160.9h0M939.8 1160.9h0M967.2 1160.9h0M994.7 1160.9h0M1022.1 1160.9h0M1049.6 1160.9h0M1077.0 1160.9h0M1104.4 1160.9h0M1131.9 1160.9h0M1159.3 1160.9h0M1186.8 1160.9h0M1214.2 1160.9h0M1243.8 1160.9h0" stroke="#000" stroke-width="3.9" stroke-linecap="round" fill="none"/>
<path d="M701.2 1160.9V1166.7M701.2 673.1V667.3M762.3 1160.9V1166.7M762.3 673.1V667.3M823.4 1160.9V1166.7M823.4 673.1V667.3M884.4 1160.9V1166.7M884.4 673.1V667.3M945.5 1160.9V1166.7M945.5 673.1V667.3M1006.6 1160.9V1166.7M1006.6 673.1V667.3M1067.7 1160.9V1166.7M1067.7 673.1V667.3M1128.7 1160.9V1166.7M1128.7 673.1V667.3M1189.8 1160.9V1166.7M1189.8 673.1V667.3M1250.9 1160.9V1166.7M1250.9 673.1V667.3M701.2 1160.9H695.4M1250.9 1160.9H1256.7M701.2 1116.6H695.4M1250.9 1116.6H1256.7M701.2 1072.2H695.4M1250.9 1072.2H1256.7M701.2 1027.9H695.4M1250.9 1027.9H1256.7M701.2 983.5H695.4M1250.9 983.5H1256.7M701.2 939.2H695.4M1250.9 939.2H1256.7M701.2 894.8H695.4M1250.9 894.8H1256.7M701.2 850.5H695.4M1250.9 850.5H1256.7M701.2 806.1H695.4M1250.9 806.1H1256.7M701.2 761.8H695.4M1250.9 761.8H1256.7M701.2 717.4H695.4M1250.9 717.4H1256.7M701.2 673.1H695.4M1250.9 673.1H1256.7" stroke="#1e1e1e" stroke-width="1.8" fill="none"/>
<rect x="701.2" y="673.1" width="549.7" height="487.8" fill="none" stroke="#1e1e1e" stroke-width="1.8"/>
<text x="701.2" y="1205.5" text-anchor="middle" font-family="'Liberation Sans', sans-serif" font-size="28" fill="#262626">0</text>
<text x="762.3" y="1205.5" text-anchor="middle" font-family="'Liberation Sans', sans-serif" font-size="28" fill="#262626">2</text>
<text x="823.4" y="1205.5" text-anchor="middle" font-family="'Liberation Sans', sans-serif" font-size="28" fill="#262626">4</text>
<text x="884.4" y="1205.5" text-anchor="middle" font-family="'Liberation Sans', sans-serif" font-size="28" fill="#262626">6</text>
<text x="945.5" y="1205.5" text-anchor="middle" font-family="'Liberation Sans', sans-serif" font-size="28" fill="#262626">8</text>
<text x="1006.6" y="1205.5" text-anchor="middle" font-family="'Liberation Sans', sans-serif" font-size="28" fill="#262626">10</text>
<text x="1067.7" y="1205.5" text-anchor="middle" font-family="'Liberation Sans', sans-serif" font-size="28" fill="#262626">12</text>
<text x="1128.7" y="1205.5" text-anchor="middle" font-family="'Liberation Sans', sans-serif" font-size="28" fill="#262626">14</text>
<text x="1189.8" y="1205.5" text-anchor="middle" font-family="'Liberation Sans', sans-serif" font-size="28" fill="#262626">16</text>
<text x="1250.9" y="1205.5" text-anchor="middle" font-family="'Liberation Sans', sans-serif" font-size="28" fill="#262626">18</text>
<text x="685.3" y="1171.9" text-anchor="end" font-family="'Liberation Sans', sans-serif" font-size="28" fill="#262626">J</text>
<text x="685.3" y="1127.6" text-anchor="end" font-family="'Liberation Sans', sans-serif" font-size="28" fill="#262626">F</text>
<text x="685.3" y="1083.2" text-anchor="end" font-family="'Liberation Sans', sans-serif" font-size="28" fill="#262626">M</text>
<text x="685.3" y="1038.9" text-anchor="end" font-family="'Liberation Sans', sans-serif" font-size="28" fill="#262626">A</text>
<text x="685.3" y="994.5" text-anchor="end" font-family="'Liberation Sans', sans-serif" font-size="28" fill="#262626">M</text>
<text x="685.3" y="950.2" text-anchor="end" font-family="'Liberation Sans', sans-serif" font-size="28" fill="#262626">J</text>
<text x="685.3" y="905.8" text-anchor="end" font-family="'Liberation Sans', sans-serif" font-size="28" fill="#262626">J</text>
<text x="685.3" y="861.5" text-anchor="end" font-family="'Liberation Sans', sans-serif" font-size="28" fill="#262626">A</text>
<text x="685.3" y="817.1" text-anchor="end" font-family="'Liberation Sans', sans-serif" font-size="28" fill="#262626">S</text>
<text x="685.3" y="772.8" text-anchor="end" font-family="'Liberation Sans', sans-serif" font-size="28" fill="#262626">O</text>
<text x="685.3" y="728.4" text-anchor="end" font-family="'Liberation Sans', sans-serif" font-size="28" fill="#262626">N</text>
<text x="685.3" y="684.1" text-anchor="end" font-family="'Liberation Sans', sans-serif" font-size="28" fill="#262626">D</text>
<text x="976.1" y="1242.5" text-anchor="middle" font-family="'Liberation Sans', sans-serif" font-size="28" fill="#262626">Lag Months</text>
<text x="45.6" y="32.4" font-family="'Liberation Sans', sans-serif" font-weight="bold" font-size="30" fill="#000">A</text>
<text x="90.4" y="34.3" font-family="'Liberation Sans', sans-serif" font-size="32" fill="#000">Nino3.4</text>
<text x="706.8" y="31.8" font-family="'Liberation Sans', sans-serif" font-weight="bold" font-size="30" fill="#000">B</text>
<text x="750.0" y="27.1" font-family="'Liberation Sans', sans-serif" font-size="32" fill="#000">SST</text>
<text x="813.8" y="43.2" font-family="'Liberation Sans', sans-serif" font-size="25" fill="#000">H</text>
<text x="45.0" y="660.3" font-family="'Liberation Sans', sans-serif" font-weight="bold" font-size="30" fill="#000">C</text>
<text x="89.0" y="662.8" font-family="'Liberation Sans', sans-serif" font-size="32" fill="#000">WWV</text>
<text x="708.6" y="659.8" font-family="'Liberation Sans', sans-serif" font-weight="bold" font-size="30" fill="#000">D</text>
<text x="750.8" y="655.9" font-family="'Liberation Sans', sans-serif" font-size="32" fill="#000">WWV</text>
<text x="834.3" y="671.7" font-family="'Liberation Sans', sans-serif" font-size="25" fill="#000">W</text>
<rect x="1329.3" y="323.40" width="31.7" height="558.80" fill="#9A1618"/>
<rect x="1329.3" y="338.92" width="31.7" height="543.28" fill="#BD1E21"/>
<rect x="1329.3" y="354.44" width="31.7" height="527.76" fill="#D02B23"/>
<rect x="1329.3" y="369.97" width="31.7" height="512.23" fill="#E03F25"/>
<rect x="1329.3" y="385.49" width="31.7" height="496.71" fill="#EA5528"/>
<rect x="1329.3" y="401.01" width="31.7" height="481.19" fill="#F26A29"/>
<rect x="1329.3" y="416.53" width="31.7" height="465.67" fill="#F6802D"/>
<rect x="1329.3" y="432.06" width="31.7" height="450.14" fill="#F99139"/>
<rect x="1329.3" y="447.58" width="31.7" height="434.62" fill="#FCA142"/>
<rect x="1329.3" y="463.10" width="31.7" height="419.10" fill="#FDB153"/>
<rect x="1329.3" y="478.62" width="31.7" height="403.58" fill="#FDBF65"/>
<rect x="1329.3" y="494.14" width="31.7" height="388.06" fill="#FECB79"/>
<rect x="1329.3" y="509.67" width="31.7" height="372.53" fill="#FED98C"/>
<rect x="1329.3" y="525.19" width="31.7" height="357.01" fill="#FEE3A3"/>
<rect x="1329.3" y="540.71" width="31.7" height="341.49" fill="#FFEDBE"/>
<rect x="1329.3" y="556.23" width="31.7" height="325.97" fill="#FFF3D0"/>
<rect x="1329.3" y="571.76" width="31.7" height="310.44" fill="#FFF8E2"/>
<rect x="1329.3" y="587.28" width="31.7" height="294.92" fill="#FFFDED"/>
<rect x="1329.3" y="602.80" width="31.7" height="279.40" fill="#FBFEFF"/>
<rect x="1329.3" y="618.32" width="31.7" height="263.88" fill="#F3FBFE"/>
<rect x="1329.3" y="633.84" width="31.7" height="248.36" fill="#EBF8FD"/>
<rect x="1329.3" y="649.37" width="31.7" height="232.83" fill="#E3F5FD"/>
<rect x="1329.3" y="664.89" width="31.7" height="217.31" fill="#D7F1FC"/>
<rect x="1329.3" y="680.41" width="31.7" height="201.79" fill="#CBEBFB"/>
<rect x="1329.3" y="695.93" width="31.7" height="186.27" fill="#BDE4F8"/>
<rect x="1329.3" y="711.46" width="31.7" height="170.74" fill="#ADDCF5"/>
<rect x="1329.3" y="726.98" width="31.7" height="155.22" fill="#9DD2F2"/>
<rect x="1329.3" y="742.50" width="31.7" height="139.70" fill="#88C4EB"/>
<rect x="1329.3" y="758.02" width="31.7" height="124.18" fill="#76B6E4"/>
<rect x="1329.3" y="773.54" width="31.7" height="108.66" fill="#63A6DC"/>
<rect x="1329.3" y="789.07" width="31.7" height="93.13" fill="#5198D3"/>
<rect x="1329.3" y="804.59" width="31.7" height="77.61" fill="#4389CA"/>
<rect x="1329.3" y="820.11" width="31.7" height="62.09" fill="#3777BC"/>
<rect x="1329.3" y="835.63" width="31.7" height="46.57" fill="#2A64B0"/>
<rect x="1329.3" y="851.16" width="31.7" height="31.04" fill="#2155A6"/>
<rect x="1329.3" y="866.68" width="31.7" height="15.52" fill="#1C4B9C"/>
<text x="1371.0" y="861.2" font-family="'Liberation Sans', sans-serif" font-size="25" fill="#262626">-0.8</text>
<text x="1371.0" y="799.1" font-family="'Liberation Sans', sans-serif" font-size="25" fill="#262626">-0.6</text>
<text x="1371.0" y="737.0" font-family="'Liberation Sans', sans-serif" font-size="25" fill="#262626">-0.4</text>
<text x="1371.0" y="674.9" font-family="'Liberation Sans', sans-serif" font-size="25" fill="#262626">-0.2</text>
<text x="1371.0" y="612.8" font-family="'Liberation Sans', sans-serif" font-size="25" fill="#262626">0</text>
<text x="1371.0" y="550.7" font-family="'Liberation Sans', sans-serif" font-size="25" fill="#262626">0.2</text>
<text x="1371.0" y="488.6" font-family="'Liberation Sans', sans-serif" font-size="25" fill="#262626">0.4</text>
<text x="1371.0" y="426.5" font-family="'Liberation Sans', sans-serif" font-size="25" fill="#262626">0.6</text>
<text x="1371.0" y="364.4" font-family="'Liberation Sans', sans-serif" font-size="25" fill="#262626">0.8</text>
<path d="M1361.0 851.2H1355.5M1361.0 789.1H1355.5M1361.0 727.0H1355.5M1361.0 664.9H1355.5M1361.0 602.8H1355.5M1361.0 540.7H1355.5M1361.0 478.6H1355.5M1361.0 416.5H1355.5M1361.0 354.4H1355.5" stroke="#262626" stroke-width="1.3" fill="none"/>
<rect x="1329.3" y="323.4" width="31.7" height="558.8" fill="none" stroke="#262626" stroke-width="1.3"/>
</svg>
</body></html>
